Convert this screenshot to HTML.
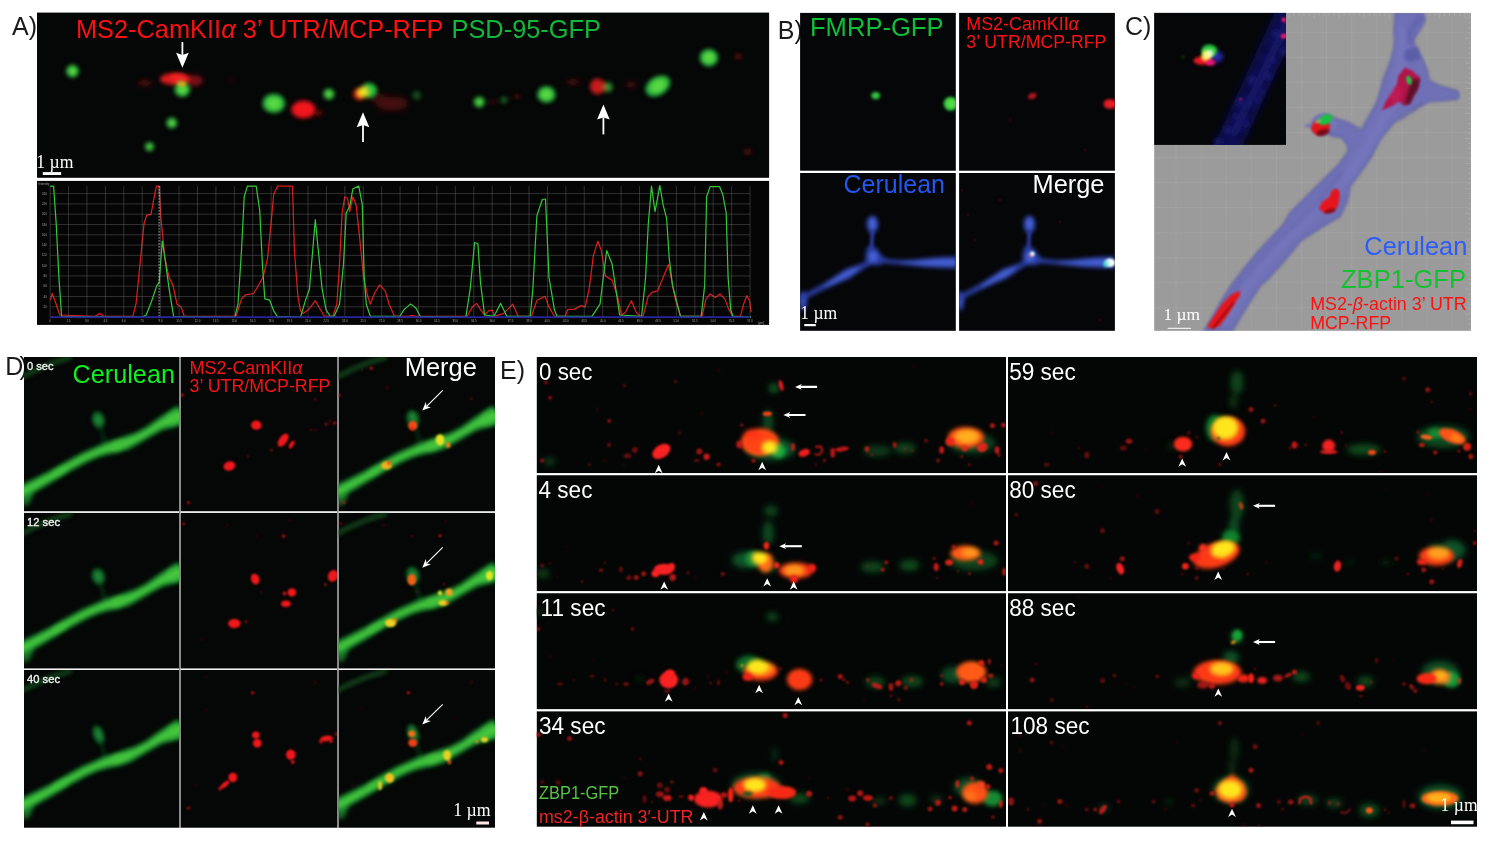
<!DOCTYPE html>
<html lang="en"><head><meta charset="utf-8"><title>Figure</title>
<style>
html,body{margin:0;padding:0;background:#fff;}
body{width:1490px;height:842px;overflow:hidden;font-family:"Liberation Sans",sans-serif;}
svg{display:block;}
</style></head><body>
<svg width="1490" height="842" viewBox="0 0 1490 842">
<rect width="1490" height="842" fill="#fff"/>
<text x="12.0" y="34.6" font-family="'Liberation Sans',sans-serif" font-size="25" fill="#1a1a1a">A)</text>
<text x="777.8" y="39.4" font-family="'Liberation Sans',sans-serif" font-size="25" fill="#1a1a1a">B)</text>
<text x="1125.0" y="35.4" font-family="'Liberation Sans',sans-serif" font-size="25" fill="#1a1a1a">C)</text>
<text x="5.2" y="374.6" font-family="'Liberation Sans',sans-serif" font-size="25" fill="#1a1a1a">D</text>
<text x="19.6" y="374.6" font-family="'Liberation Sans',sans-serif" font-size="25" fill="#1a1a1a">)</text>
<text x="500.0" y="378.9" font-family="'Liberation Sans',sans-serif" font-size="25" fill="#1a1a1a">E)</text>
<!-- gen_a -->
<clipPath id="cpA"><rect x="37" y="12.6" width="732.1" height="165.2"/></clipPath>
<rect x="37" y="12.6" width="732.1" height="165.2" fill="#050606"/>
<g clip-path="url(#cpA)">
<filter id="fA_3" filterUnits="userSpaceOnUse" x="17" y="-7.4" width="772.1" height="205.2"><feGaussianBlur stdDeviation="3"/></filter>
<g filter="url(#fA_3)"><ellipse cx="392.0" cy="103.5" rx="16.0" ry="7.0" fill="#5a1010" opacity="0.80"/><ellipse cx="378.0" cy="98.0" rx="8.0" ry="5.0" fill="#4a0c0c" opacity="0.80"/></g>
<filter id="fA_2_5" filterUnits="userSpaceOnUse" x="17" y="-7.4" width="772.1" height="205.2"><feGaussianBlur stdDeviation="2.5"/></filter>
<g filter="url(#fA_2_5)"><ellipse cx="145.0" cy="83.0" rx="8.0" ry="3.0" fill="#5a0c0e" opacity="0.80"/><ellipse cx="318.0" cy="113.0" rx="5.0" ry="3.0" fill="#7a1012" opacity="0.80"/><ellipse cx="573.0" cy="82.0" rx="8.0" ry="3.0" fill="#4a0c0c" opacity="0.80"/><ellipse cx="631.0" cy="84.6" rx="5.0" ry="3.0" fill="#5a0c0e" opacity="0.80"/><ellipse cx="230.0" cy="80.0" rx="5.0" ry="2.0" fill="#300808" opacity="0.80"/></g>
<filter id="fA_2_4" filterUnits="userSpaceOnUse" x="17" y="-7.4" width="772.1" height="205.2"><feGaussianBlur stdDeviation="2.4"/></filter>
<g filter="url(#fA_2_4)"><ellipse cx="193.0" cy="80.5" rx="10.0" ry="5.5" fill="#8a1216" opacity="0.90"/></g>
<filter id="fA_2_2" filterUnits="userSpaceOnUse" x="17" y="-7.4" width="772.1" height="205.2"><feGaussianBlur stdDeviation="2.2"/></filter>
<g filter="url(#fA_2_2)"><ellipse cx="175.0" cy="79.0" rx="15.0" ry="6.0" fill="#e81c20" opacity="0.95"/></g>
<filter id="fA_2_0" filterUnits="userSpaceOnUse" x="17" y="-7.4" width="772.1" height="205.2"><feGaussianBlur stdDeviation="2.0"/></filter>
<g filter="url(#fA_2_0)"><ellipse cx="72.5" cy="71.1" rx="6.3" ry="6.3" fill="#2ab840"/><ellipse cx="72.5" cy="71.1" rx="3.7" ry="3.7" fill="#58d840"/><ellipse cx="182.3" cy="89.6" rx="7.8" ry="7.3" fill="#2ab840"/><ellipse cx="182.3" cy="89.6" rx="4.6" ry="4.3" fill="#58d840"/><ellipse cx="171.8" cy="123.0" rx="5.4" ry="5.4" fill="#2ab840" opacity="0.95"/><ellipse cx="171.8" cy="123.0" rx="3.2" ry="3.2" fill="#58d840" opacity="0.95"/><ellipse cx="149.5" cy="146.8" rx="4.7" ry="4.7" fill="#2ab840" opacity="0.85"/><ellipse cx="149.5" cy="146.8" rx="2.8" ry="2.8" fill="#58d840" opacity="0.85"/><ellipse cx="273.8" cy="103.4" rx="11.2" ry="9.7" fill="#2ab840"/><ellipse cx="273.8" cy="103.4" rx="6.6" ry="5.7" fill="#58d840"/><ellipse cx="328.9" cy="94.0" rx="5.6" ry="5.6" fill="#2ab840" opacity="0.95"/><ellipse cx="328.9" cy="94.0" rx="3.3" ry="3.3" fill="#58d840" opacity="0.95"/><ellipse cx="479.3" cy="102.0" rx="5.6" ry="5.6" fill="#2ab840" opacity="0.90"/><ellipse cx="479.3" cy="102.0" rx="3.3" ry="3.3" fill="#58d840" opacity="0.90"/><ellipse cx="546.4" cy="94.5" rx="9.2" ry="8.2" fill="#2ab840"/><ellipse cx="546.4" cy="94.5" rx="5.4" ry="4.8" fill="#58d840"/><ellipse cx="657.9" cy="85.9" rx="13.3" ry="9.2" fill="#2ab840" transform="rotate(-32 657.9 85.9)"/><ellipse cx="657.9" cy="85.9" rx="7.8" ry="5.4" fill="#58d840" transform="rotate(-32 657.9 85.9)"/><ellipse cx="708.9" cy="57.7" rx="9.2" ry="8.7" fill="#2ab840"/><ellipse cx="708.9" cy="57.7" rx="5.4" ry="5.1" fill="#58d840"/><ellipse cx="416.8" cy="95.3" rx="4.5" ry="4.5" fill="#164a1c"/><ellipse cx="504.0" cy="99.9" rx="3.5" ry="3.5" fill="#1b5a22"/><ellipse cx="608.2" cy="87.2" rx="4.5" ry="5.0" fill="#2a8a30"/><ellipse cx="178.0" cy="77.5" rx="8.0" ry="3.2" fill="#f82828" opacity="0.90"/><ellipse cx="303.4" cy="109.5" rx="12.0" ry="9.0" fill="#f0181c"/><ellipse cx="359.5" cy="94.0" rx="6.0" ry="6.0" fill="#f03014"/><ellipse cx="369.0" cy="90.5" rx="8.0" ry="7.5" fill="#2fc23c"/><ellipse cx="363.0" cy="92.0" rx="5.0" ry="5.0" fill="#f0e020"/><ellipse cx="492.8" cy="102.0" rx="3.0" ry="2.0" fill="#5a0c0e" opacity="0.80"/><ellipse cx="517.0" cy="96.6" rx="4.0" ry="2.5" fill="#4a0c0c" opacity="0.80"/><ellipse cx="597.4" cy="86.4" rx="7.5" ry="8.0" fill="#d01a1c" opacity="0.95"/><ellipse cx="738.4" cy="56.4" rx="4.0" ry="3.0" fill="#5a0c0e" opacity="0.90"/><ellipse cx="747.8" cy="151.7" rx="4.0" ry="3.5" fill="#4a0c0c" opacity="0.90"/></g>
<filter id="fA_1_6" filterUnits="userSpaceOnUse" x="17" y="-7.4" width="772.1" height="205.2"><feGaussianBlur stdDeviation="1.6"/></filter>
<g filter="url(#fA_1_6)"><ellipse cx="181.6" cy="84.2" rx="4.5" ry="2.4" fill="#e8b020" opacity="0.90"/></g>
<path d="M182.4 42.0 L182.4 54.9" stroke="#fff" stroke-width="1.8" fill="none"/><path d="M182.4 67.8 L176.1 52.8 L182.4 54.9 L188.7 52.8Z" fill="#fff"/>
<path d="M363.0 141.9 L363.0 125.1" stroke="#fff" stroke-width="1.8" fill="none"/><path d="M363.0 112.2 L356.7 127.2 L363.0 125.1 L369.3 127.2Z" fill="#fff"/>
<path d="M603.4 134.4 L603.4 117.5" stroke="#fff" stroke-width="1.8" fill="none"/><path d="M603.4 104.6 L597.1 119.6 L603.4 117.5 L609.7 119.6Z" fill="#fff"/>
<text x="75.9" y="38.2" font-family="'Liberation Sans',sans-serif" font-size="25" fill="#fa1212" textLength="367.5" lengthAdjust="spacingAndGlyphs">MS2-CamKII<tspan font-style="italic">α</tspan> 3’ UTR/MCP-RFP</text>
<text x="451.5" y="38.2" font-family="'Liberation Sans',sans-serif" font-size="25" fill="#12b83a" textLength="149.5" lengthAdjust="spacingAndGlyphs">PSD-95-GFP</text>
<text x="36.2" y="167.9" font-family="'Liberation Serif',serif" font-size="19" fill="#fff" textLength="37.2" lengthAdjust="spacingAndGlyphs">1 µm</text>
<rect x="42.8" y="172.1" width="18.3" height="2.9" fill="#fff"/>
</g>
<clipPath id="cpP"><rect x="37" y="180.9" width="732.1" height="144.0"/></clipPath>
<rect x="37" y="180.9" width="732.1" height="144.0" fill="#050505"/>
<g clip-path="url(#cpP)">
<filter id="fP_0_4" filterUnits="userSpaceOnUse" x="17" y="160.9" width="772.1" height="184.0"><feGaussianBlur stdDeviation="0.4"/></filter>
<g filter="url(#fP_0_4)"><polyline points="50.5,300.0 52.2,293.5 56.2,304.2 59.7,315.0 95.0,316.3 99.7,313.6 104.0,316.3 132.8,316.3 136.0,304.2 139.5,269.3 144.0,223.7 146.7,215.1 151.0,214.3 154.2,196.8 156.4,186.1 159.1,186.1 160.9,218.3 165.0,258.6 169.0,277.4 173.0,285.4 177.0,304.2 181.1,306.9 184.3,316.3 236.1,316.3 241.5,298.9 245.5,294.8 253.6,293.5 257.6,286.8 263.0,277.4 267.5,258.6 271.0,223.7 273.7,194.2 277.7,186.1 292.5,186.1 294.4,250.5 297.9,296.2 300.5,310.9 303.2,313.6 308.6,309.6 315.3,300.7 322.0,312.3 324.7,316.3 332.8,316.3 336.8,304.2 339.5,264.0 342.1,213.0 344.8,196.8 347.5,198.2 349.7,211.6 352.9,196.8 356.1,204.9 359.6,237.1 363.6,277.4 367.7,296.2 370.3,304.2 374.4,293.5 379.7,284.9 385.1,290.8 389.1,304.2 394.5,316.3 408.0,316.3 412.0,315.3 416.0,316.3 467.1,316.3 472.5,306.9 476.5,303.4 480.5,309.6 484.6,315.0 488.6,310.9 492.6,310.1 494.0,316.3 503.4,313.6 507.4,309.6 512.8,304.2 518.1,316.3 531.5,316.3 536.9,300.2 545.0,296.2 549.0,306.9 554.4,316.3 565.1,316.3 567.8,309.6 574.5,309.1 581.2,305.6 585.2,306.9 589.3,288.1 593.3,255.9 597.9,241.1 601.3,250.5 605.4,276.0 612.1,280.1 617.4,296.2 621.5,315.0 625.5,312.3 631.4,300.7 636.2,312.3 640.3,316.3 643.0,316.3 648.3,296.2 652.3,292.1 657.7,290.8 663.1,277.4 668.5,264.5 671.1,277.4 675.2,298.9 680.5,316.3 702.0,316.3 706.0,298.9 710.1,294.0 715.4,297.5 720.0,294.0 724.8,298.9 728.9,309.6 732.9,316.3 740.4,316.3 743.6,304.2 746.8,295.6 749.8,301.5 751.1,312.3" fill="none" stroke="#dc1a1a" stroke-width="1.25" stroke-linejoin="round"/><polyline points="50.1,186.1 53.6,186.1 56.2,223.7 58.9,277.4 61.6,316.3 142.1,317.1 146.2,315.0 151.5,301.5 156.9,285.4 159.1,282.8 162.3,241.1 165.0,258.6 169.0,288.1 173.6,316.3 234.8,317.1 238.0,304.2 241.5,250.5 244.2,196.8 247.4,186.1 256.2,186.1 259.7,210.3 262.4,264.0 264.8,298.9 269.7,300.2 273.7,310.9 277.2,316.3 300.5,317.1 305.9,298.9 309.4,289.5 315.3,219.7 322.0,288.1 326.0,309.6 330.1,316.3 334.1,316.3 339.5,304.2 343.5,264.0 346.2,213.0 349.7,206.2 352.9,188.8 358.8,186.1 362.3,204.9 364.2,277.4 366.3,304.2 370.3,316.3 399.9,316.3 404.0,309.6 410.7,303.9 416.1,308.3 420.1,316.3 465.8,317.1 470.3,288.1 474.6,242.5 477.9,243.8 480.5,282.8 484.6,315.0 494.0,316.3 500.7,303.4 506.8,316.3 530.2,316.3 532.9,288.1 536.9,215.6 542.3,199.5 545.5,199.0 549.0,277.4 554.4,309.6 557.0,316.3 592.0,316.3 600.0,304.2 604.0,272.0 606.7,250.5 612.1,264.0 616.1,290.8 619.6,315.0 641.6,316.3 645.6,277.4 648.3,223.7 651.5,186.1 655.0,211.6 659.9,185.6 663.1,204.9 666.6,218.3 669.3,258.6 672.5,285.4 680.5,316.3 701.2,316.3 704.7,285.4 706.6,196.8 710.1,186.6 719.5,186.6 722.7,194.2 726.2,213.0 728.1,277.4 730.7,309.6 732.9,316.3 751.1,317.1" fill="none" stroke="#30cc36" stroke-width="1.2" stroke-linejoin="round"/></g>
<filter id="fP_0_35" filterUnits="userSpaceOnUse" x="17" y="160.9" width="772.1" height="184.0"><feGaussianBlur stdDeviation="0.35"/></filter>
<g filter="url(#fP_0_35)"><path d="M50.10 186.1 V317.1 M68.52 186.1 V317.1 M86.94 186.1 V317.1 M105.36 186.1 V317.1 M123.78 186.1 V317.1 M142.20 186.1 V317.1 M160.62 186.1 V317.1 M179.04 186.1 V317.1 M197.46 186.1 V317.1 M215.88 186.1 V317.1 M234.30 186.1 V317.1 M252.72 186.1 V317.1 M271.14 186.1 V317.1 M289.56 186.1 V317.1 M307.98 186.1 V317.1 M326.40 186.1 V317.1 M344.82 186.1 V317.1 M363.24 186.1 V317.1 M381.66 186.1 V317.1 M400.08 186.1 V317.1 M418.50 186.1 V317.1 M436.92 186.1 V317.1 M455.34 186.1 V317.1 M473.76 186.1 V317.1 M492.18 186.1 V317.1 M510.60 186.1 V317.1 M529.02 186.1 V317.1 M547.44 186.1 V317.1 M565.86 186.1 V317.1 M584.28 186.1 V317.1 M602.70 186.1 V317.1 M621.12 186.1 V317.1 M639.54 186.1 V317.1 M657.96 186.1 V317.1 M676.38 186.1 V317.1 M694.80 186.1 V317.1 M713.22 186.1 V317.1 M731.64 186.1 V317.1 M750.06 186.1 V317.1 M50.1 306.81 H750.06 M50.1 296.52 H750.06 M50.1 286.23 H750.06 M50.1 275.94 H750.06 M50.1 265.65 H750.06 M50.1 255.36 H750.06 M50.1 245.07 H750.06 M50.1 234.78 H750.06 M50.1 224.49 H750.06 M50.1 214.20 H750.06 M50.1 203.91 H750.06 M50.1 193.62 H750.06" stroke="#8a8a8a" stroke-width="0.9" fill="none" opacity="0.36"/><path d="M159.1 186.1 V317.1" stroke="#ddd" stroke-width="1" stroke-dasharray="1.5 1.5" fill="none" opacity=".8"/><path d="M50.1 317.1 H750.1" stroke="#28289c" stroke-width="1.6" fill="none"/></g>
<filter id="fP_0_3" filterUnits="userSpaceOnUse" x="17" y="160.9" width="772.1" height="184.0"><feGaussianBlur stdDeviation="0.3"/></filter>
<g filter="url(#fP_0_3)"><g font-family="'Liberation Sans',sans-serif" font-size="2.9" fill="#ddd" opacity=".7"><text x="50.1" y="321.6" text-anchor="middle">0</text><text x="68.5" y="321.6" text-anchor="middle">1.5</text><text x="86.9" y="321.6" text-anchor="middle">3.0</text><text x="105.4" y="321.6" text-anchor="middle">4.5</text><text x="123.8" y="321.6" text-anchor="middle">6.0</text><text x="142.2" y="321.6" text-anchor="middle">7.5</text><text x="160.6" y="321.6" text-anchor="middle">9.0</text><text x="179.0" y="321.6" text-anchor="middle">10.5</text><text x="197.5" y="321.6" text-anchor="middle">12.0</text><text x="215.9" y="321.6" text-anchor="middle">13.5</text><text x="234.3" y="321.6" text-anchor="middle">15.0</text><text x="252.7" y="321.6" text-anchor="middle">16.5</text><text x="271.1" y="321.6" text-anchor="middle">18.0</text><text x="289.6" y="321.6" text-anchor="middle">19.5</text><text x="308.0" y="321.6" text-anchor="middle">21.0</text><text x="326.4" y="321.6" text-anchor="middle">22.5</text><text x="344.8" y="321.6" text-anchor="middle">24.0</text><text x="363.2" y="321.6" text-anchor="middle">25.5</text><text x="381.7" y="321.6" text-anchor="middle">27.0</text><text x="400.1" y="321.6" text-anchor="middle">28.5</text><text x="418.5" y="321.6" text-anchor="middle">30.0</text><text x="436.9" y="321.6" text-anchor="middle">31.5</text><text x="455.3" y="321.6" text-anchor="middle">33.0</text><text x="473.8" y="321.6" text-anchor="middle">34.5</text><text x="492.2" y="321.6" text-anchor="middle">36.0</text><text x="510.6" y="321.6" text-anchor="middle">37.5</text><text x="529.0" y="321.6" text-anchor="middle">39.0</text><text x="547.4" y="321.6" text-anchor="middle">40.5</text><text x="565.9" y="321.6" text-anchor="middle">42.0</text><text x="584.3" y="321.6" text-anchor="middle">43.5</text><text x="602.7" y="321.6" text-anchor="middle">45.0</text><text x="621.1" y="321.6" text-anchor="middle">46.5</text><text x="639.5" y="321.6" text-anchor="middle">48.0</text><text x="658.0" y="321.6" text-anchor="middle">49.5</text><text x="676.4" y="321.6" text-anchor="middle">51.0</text><text x="694.8" y="321.6" text-anchor="middle">52.5</text><text x="713.2" y="321.6" text-anchor="middle">54.0</text><text x="731.6" y="321.6" text-anchor="middle">55.5</text><text x="750.1" y="321.6" text-anchor="middle">57.0</text><text x="46.8" y="307.8" text-anchor="end">20</text><text x="46.8" y="297.5" text-anchor="end">40</text><text x="46.8" y="287.2" text-anchor="end">60</text><text x="46.8" y="276.9" text-anchor="end">80</text><text x="46.8" y="266.7" text-anchor="end">100</text><text x="46.8" y="256.4" text-anchor="end">120</text><text x="46.8" y="246.1" text-anchor="end">140</text><text x="46.8" y="235.8" text-anchor="end">160</text><text x="46.8" y="225.5" text-anchor="end">180</text><text x="46.8" y="215.2" text-anchor="end">200</text><text x="46.8" y="204.9" text-anchor="end">220</text><text x="46.8" y="194.6" text-anchor="end">240</text><text x="38.5" y="184.6">Intensity</text><text x="758" y="324">[µm]</text></g></g>
</g>
<!-- gen_b -->
<clipPath id="cpB1"><rect x="800.1" y="12.9" width="155.7" height="157.8"/></clipPath>
<rect x="800.1" y="12.9" width="155.7" height="157.8" fill="#050608"/>
<g clip-path="url(#cpB1)">
<filter id="fB1_1_8" filterUnits="userSpaceOnUse" x="780.1" y="-7.1" width="195.7" height="197.8"><feGaussianBlur stdDeviation="1.8"/></filter>
<g filter="url(#fB1_1_8)"><ellipse cx="950.6" cy="103.7" rx="7.0" ry="7.0" fill="#2fc23c"/></g>
<filter id="fB1_1_6" filterUnits="userSpaceOnUse" x="780.1" y="-7.1" width="195.7" height="197.8"><feGaussianBlur stdDeviation="1.6"/></filter>
<g filter="url(#fB1_1_6)"><ellipse cx="951.0" cy="103.7" rx="4.5" ry="4.5" fill="#58dc44"/></g>
<filter id="fB1_1_5" filterUnits="userSpaceOnUse" x="780.1" y="-7.1" width="195.7" height="197.8"><feGaussianBlur stdDeviation="1.5"/></filter>
<g filter="url(#fB1_1_5)"><ellipse cx="875.7" cy="95.6" rx="4.4" ry="3.6" fill="#2fc23c"/></g>
<text x="810.0" y="36.2" font-family="'Liberation Sans',sans-serif" font-size="25" fill="#0cc03a" textLength="133.5" lengthAdjust="spacingAndGlyphs">FMRP-GFP</text>
</g>
<clipPath id="cpB2"><rect x="959.1" y="12.9" width="155.8" height="157.8"/></clipPath>
<rect x="959.1" y="12.9" width="155.8" height="157.8" fill="#050608"/>
<g clip-path="url(#cpB2)">
<filter id="fB2_1_6" filterUnits="userSpaceOnUse" x="939.1" y="-7.1" width="195.8" height="197.8"><feGaussianBlur stdDeviation="1.6"/></filter>
<g filter="url(#fB2_1_6)"><ellipse cx="1110.0" cy="104.0" rx="6.5" ry="4.8" fill="#e81c20"/></g>
<filter id="fB2_1_5" filterUnits="userSpaceOnUse" x="939.1" y="-7.1" width="195.8" height="197.8"><feGaussianBlur stdDeviation="1.5"/></filter>
<g filter="url(#fB2_1_5)"><ellipse cx="1032.3" cy="96.0" rx="4.4" ry="2.7" fill="#c8181c" opacity="0.95" transform="rotate(-20 1032.3 96.0)"/></g>
<filter id="fB2_0_8" filterUnits="userSpaceOnUse" x="939.1" y="-7.1" width="195.8" height="197.8"><feGaussianBlur stdDeviation="0.8"/></filter>
<g filter="url(#fB2_0_8)"><ellipse cx="970.0" cy="20.0" rx="1.2" ry="1.2" fill="#401014" opacity="0.90"/><ellipse cx="1005.0" cy="40.0" rx="1.2" ry="1.2" fill="#401014" opacity="0.90"/><ellipse cx="1085.0" cy="150.0" rx="1.2" ry="1.2" fill="#401014" opacity="0.90"/><ellipse cx="1010.0" cy="120.0" rx="1.2" ry="1.2" fill="#401014" opacity="0.90"/></g>
<text x="966.3" y="30.3" font-family="'Liberation Sans',sans-serif" font-size="17.5" fill="#fa1414" textLength="112.5" lengthAdjust="spacingAndGlyphs">MS2-CamKII<tspan font-style="italic">α</tspan></text>
<text x="966.3" y="47.6" font-family="'Liberation Sans',sans-serif" font-size="17.5" fill="#fa1414" textLength="140.0" lengthAdjust="spacingAndGlyphs">3’ UTR/MCP-RFP</text>
</g>
<clipPath id="cpB3"><rect x="800.1" y="173.0" width="155.7" height="157.8"/></clipPath>
<rect x="800.1" y="173.0" width="155.7" height="157.8" fill="#050608"/>
<g clip-path="url(#cpB3)">
<filter id="fB3_2_2" filterUnits="userSpaceOnUse" x="780.1" y="153.0" width="195.7" height="197.8"><feGaussianBlur stdDeviation="2.2"/></filter>
<g filter="url(#fB3_2_2)"><ellipse cx="803.2" cy="301.0" rx="4.0" ry="10.0" fill="#2a3ca4"/><ellipse cx="803.2" cy="300.0" rx="2.0" ry="6.0" fill="#4560d4" opacity="0.80"/></g>
<filter id="fB3_2_0" filterUnits="userSpaceOnUse" x="780.1" y="153.0" width="195.7" height="197.8"><feGaussianBlur stdDeviation="2.0"/></filter>
<g filter="url(#fB3_2_0)"><path d="M800.2 301.8 L813.2 295.0 L826.3 288.4 L839.9 282.5 L850.4 277.9 L859.6 271.4 L869.0 265.6 L867.0 261.6 L856.4 265.2 L845.6 269.1 L836.1 275.5 L823.7 283.6 L810.8 290.6 L797.8 297.4Z" fill="#2a3ca4"/><path d="M825.5 286.9 L839.1 281.0 L849.4 276.1 L858.7 269.6 L857.3 267.0 L846.6 270.9 L836.9 277.0 L824.5 285.1Z" fill="#4560d4"/><path d="M875.4 262.4 L887.7 263.4 L899.9 264.4 L912.9 265.8 L926.0 267.3 L940.1 268.1 L957.0 268.5 L957.0 256.5 L939.9 257.1 L926.0 258.3 L913.1 259.8 L900.1 260.2 L888.3 259.0 L876.6 255.6Z" fill="#2a3ca4"/><path d="M900.0 262.8 L913.0 264.0 L926.0 265.0 L940.0 265.6 L957.0 266.0 L957.0 259.0 L940.0 259.6 L926.0 260.6 L913.0 261.6 L900.0 261.8Z" fill="#4560d4"/><path d="M867.5 246.0 L876.0 247.5 L885.0 259.5 L881.0 265.0 L865.5 265.5 L865.5 255.0Z" fill="#2a3ca4"/><ellipse cx="873.0" cy="256.5" rx="4.2" ry="5.5" fill="#4560d4"/><ellipse cx="872.4" cy="224.4" rx="6.0" ry="9.0" fill="#2a3ca4"/><ellipse cx="872.4" cy="223.6" rx="3.8" ry="6.4" fill="#4560d4"/></g>
<filter id="fB3_1_7" filterUnits="userSpaceOnUse" x="780.1" y="153.0" width="195.7" height="197.8"><feGaussianBlur stdDeviation="1.7"/></filter>
<g filter="url(#fB3_1_7)"><path d="M872.4 232.0 L871.5 249.0" fill="none" stroke="#2a3ca4" stroke-width="3.6" stroke-linecap="round" stroke-linejoin="round"/></g>
<text x="843.5" y="192.9" font-family="'Liberation Sans',sans-serif" font-size="25" fill="#2456f0" textLength="101.5" lengthAdjust="spacingAndGlyphs">Cerulean</text>
<text x="800.3" y="318.8" font-family="'Liberation Serif',serif" font-size="18.5" fill="#fff" textLength="37.0" lengthAdjust="spacingAndGlyphs">1 µm</text>
<rect x="804.3" y="324" width="11.5" height="2.2" fill="#fff"/>
</g>
<clipPath id="cpB4"><rect x="959.1" y="173.0" width="155.8" height="157.8"/></clipPath>
<rect x="959.1" y="173.0" width="155.8" height="157.8" fill="#050608"/>
<g clip-path="url(#cpB4)">
<filter id="fB4_2_2" filterUnits="userSpaceOnUse" x="939.1" y="153.0" width="195.8" height="197.8"><feGaussianBlur stdDeviation="2.2"/></filter>
<g filter="url(#fB4_2_2)"><ellipse cx="960.2" cy="301.0" rx="4.0" ry="10.0" fill="#2a3ca4"/><ellipse cx="960.2" cy="300.0" rx="2.0" ry="6.0" fill="#4560d4" opacity="0.80"/></g>
<filter id="fB4_2_0" filterUnits="userSpaceOnUse" x="939.1" y="153.0" width="195.8" height="197.8"><feGaussianBlur stdDeviation="2.0"/></filter>
<g filter="url(#fB4_2_0)"><path d="M957.2 301.8 L970.2 295.0 L983.3 288.4 L996.9 282.5 L1007.4 277.9 L1016.6 271.4 L1026.0 265.6 L1024.0 261.6 L1013.4 265.2 L1002.6 269.1 L993.1 275.5 L980.7 283.6 L967.8 290.6 L954.8 297.4Z" fill="#2a3ca4"/><path d="M982.5 286.9 L996.1 281.0 L1006.4 276.1 L1015.7 269.6 L1014.3 267.0 L1003.6 270.9 L993.9 277.0 L981.5 285.1Z" fill="#4560d4"/><path d="M1032.4 262.4 L1044.7 263.4 L1056.9 264.4 L1069.9 265.8 L1083.0 267.3 L1097.1 268.1 L1114.0 268.5 L1114.0 256.5 L1096.9 257.1 L1083.0 258.3 L1070.1 259.8 L1057.1 260.2 L1045.3 259.0 L1033.6 255.6Z" fill="#2a3ca4"/><path d="M1057.0 262.8 L1070.0 264.0 L1083.0 265.0 L1097.0 265.6 L1114.0 266.0 L1114.0 259.0 L1097.0 259.6 L1083.0 260.6 L1070.0 261.6 L1057.0 261.8Z" fill="#4560d4"/><path d="M1024.5 246.0 L1033.0 247.5 L1042.0 259.5 L1038.0 265.0 L1022.5 265.5 L1022.5 255.0Z" fill="#2a3ca4"/><ellipse cx="1030.0" cy="256.5" rx="4.2" ry="5.5" fill="#4560d4"/><ellipse cx="1029.4" cy="224.4" rx="6.0" ry="9.0" fill="#2a3ca4"/><ellipse cx="1029.4" cy="223.6" rx="3.8" ry="6.4" fill="#4560d4"/></g>
<filter id="fB4_1_7" filterUnits="userSpaceOnUse" x="939.1" y="153.0" width="195.8" height="197.8"><feGaussianBlur stdDeviation="1.7"/></filter>
<g filter="url(#fB4_1_7)"><path d="M1029.4 232.0 L1028.5 249.0" fill="none" stroke="#2a3ca4" stroke-width="3.6" stroke-linecap="round" stroke-linejoin="round"/></g>
<filter id="fB4_1_3" filterUnits="userSpaceOnUse" x="939.1" y="153.0" width="195.8" height="197.8"><feGaussianBlur stdDeviation="1.3"/></filter>
<g filter="url(#fB4_1_3)"><ellipse cx="1110.0" cy="262.7" rx="5.4" ry="4.2" fill="#f4fffa"/><ellipse cx="1106.0" cy="263.8" rx="3.0" ry="3.6" fill="#40e0d0" opacity="0.70"/></g>
<filter id="fB4_1_0" filterUnits="userSpaceOnUse" x="939.1" y="153.0" width="195.8" height="197.8"><feGaussianBlur stdDeviation="1.0"/></filter>
<g filter="url(#fB4_1_0)"><ellipse cx="1032.3" cy="254.0" rx="2.4" ry="2.4" fill="#e8fff0"/><ellipse cx="1030.3" cy="255.6" rx="1.6" ry="1.6" fill="#ff5060" opacity="0.80"/></g>
<filter id="fB4_0_8" filterUnits="userSpaceOnUse" x="939.1" y="153.0" width="195.8" height="197.8"><feGaussianBlur stdDeviation="0.8"/></filter>
<g filter="url(#fB4_0_8)"><ellipse cx="968.0" cy="215.0" rx="1.2" ry="1.2" fill="#401014" opacity="0.90"/><ellipse cx="962.0" cy="190.0" rx="1.2" ry="1.2" fill="#401014" opacity="0.90"/><ellipse cx="1060.0" cy="222.0" rx="1.2" ry="1.2" fill="#401014" opacity="0.90"/><ellipse cx="1100.0" cy="320.0" rx="1.2" ry="1.2" fill="#401014" opacity="0.90"/><ellipse cx="1085.0" cy="190.0" rx="1.2" ry="1.2" fill="#401014" opacity="0.90"/><ellipse cx="1000.0" cy="200.0" rx="1.2" ry="1.2" fill="#401014" opacity="0.90"/><ellipse cx="975.0" cy="240.0" rx="1.2" ry="1.2" fill="#401014" opacity="0.90"/></g>
<text x="1032.5" y="192.9" font-family="'Liberation Sans',sans-serif" font-size="25" fill="#ffffff" textLength="72.0" lengthAdjust="spacingAndGlyphs">Merge</text>
</g>
<!-- gen_c -->
<clipPath id="cpC"><rect x="1154.2" y="12.9" width="316.8" height="317.9"/></clipPath>
<rect x="1154.2" y="12.9" width="316.8" height="317.9" fill="#9b9b9b"/>
<g clip-path="url(#cpC)">
<filter id="fC_0_4" filterUnits="userSpaceOnUse" x="1134.2" y="-7.1" width="356.8" height="357.9"><feGaussianBlur stdDeviation="0.4"/></filter>
<g filter="url(#fC_0_4)"><path d="M1176.0 13 V331 M1201.1 13 V331 M1226.2 13 V331 M1251.3 13 V331 M1276.4 13 V331 M1301.5 13 V331 M1326.6 13 V331 M1351.7 13 V331 M1376.8 13 V331 M1401.9 13 V331 M1427.0 13 V331 M1452.1 13 V331 M1477.2 13 V331 M1154 32.3 H1471 M1154 57.3 H1471 M1154 82.4 H1471 M1154 107.5 H1471 M1154 132.5 H1471 M1154 157.6 H1471 M1154 182.6 H1471 M1154 207.6 H1471 M1154 232.7 H1471 M1154 257.8 H1471 M1154 282.8 H1471 M1154 307.9 H1471" stroke="#b0b0b0" stroke-width="0.8" fill="none" opacity=".38"/><path d="M1289.0 13 v5 M1294.0 13 v3 M1299.0 13 v3 M1304.1 13 v3 M1309.1 13 v3 M1314.1 13 v5 M1319.1 13 v3 M1324.1 13 v3 M1329.2 13 v3 M1334.2 13 v3 M1339.2 13 v5 M1344.2 13 v3 M1349.2 13 v3 M1354.3 13 v3 M1359.3 13 v3 M1364.3 13 v5 M1369.3 13 v3 M1374.3 13 v3 M1379.4 13 v3 M1384.4 13 v3 M1389.4 13 v5 M1394.4 13 v3 M1399.4 13 v3 M1404.5 13 v3 M1409.5 13 v3 M1414.5 13 v5 M1419.5 13 v3 M1424.5 13 v3 M1429.6 13 v3 M1434.6 13 v3 M1439.6 13 v5 M1444.6 13 v3 M1449.6 13 v3 M1454.7 13 v3 M1459.7 13 v3 M1464.7 13 v5 M1469.7 13 v3 M1474.7 13 v3 M1479.8 13 v3 M1484.8 13 v3 M1489.8 13 v5 M1494.8 13 v3 M1499.8 13 v3 M1504.9 13 v3 M1509.9 13 v3 M1514.9 13 v5 M1519.9 13 v3 M1524.9 13 v3 M1530.0 13 v3 M1535.0 13 v3 M1540.0 13 v5 M1545.0 13 v3 M1550.0 13 v3 M1555.1 13 v3 M1560.1 13 v3 M1565.1 13 v5 M1570.1 13 v3 M1575.1 13 v3 M1580.2 13 v3 M1585.2 13 v3 M1590.2 13 v5 M1595.2 13 v3 M1600.2 13 v3 M1605.3 13 v3 M1471 13.0 h-6 M1471 18.0 h-3 M1471 23.0 h-3 M1471 28.1 h-3 M1471 33.1 h-3 M1471 38.1 h-6 M1471 43.1 h-3 M1471 48.1 h-3 M1471 53.2 h-3 M1471 58.2 h-3 M1471 63.2 h-6 M1471 68.2 h-3 M1471 73.2 h-3 M1471 78.3 h-3 M1471 83.3 h-3 M1471 88.3 h-6 M1471 93.3 h-3 M1471 98.3 h-3 M1471 103.4 h-3 M1471 108.4 h-3 M1471 113.4 h-6 M1471 118.4 h-3 M1471 123.4 h-3 M1471 128.5 h-3 M1471 133.5 h-3 M1471 138.5 h-6 M1471 143.5 h-3 M1471 148.5 h-3 M1471 153.6 h-3 M1471 158.6 h-3 M1471 163.6 h-6 M1471 168.6 h-3 M1471 173.6 h-3 M1471 178.7 h-3 M1471 183.7 h-3 M1471 188.7 h-6 M1471 193.7 h-3 M1471 198.7 h-3 M1471 203.8 h-3 M1471 208.8 h-3 M1471 213.8 h-6 M1471 218.8 h-3 M1471 223.8 h-3 M1471 228.9 h-3 M1471 233.9 h-3 M1471 238.9 h-6 M1471 243.9 h-3 M1471 248.9 h-3 M1471 254.0 h-3 M1471 259.0 h-3 M1471 264.0 h-6 M1471 269.0 h-3 M1471 274.0 h-3 M1471 279.1 h-3 M1471 284.1 h-3 M1471 289.1 h-6 M1471 294.1 h-3 M1471 299.1 h-3 M1471 304.2 h-3 M1471 309.2 h-3 M1471 314.2 h-6 M1471 319.2 h-3 M1471 324.2 h-3 M1471 329.3 h-3" stroke="#c0c0c0" stroke-width="0.7" fill="none" opacity=".5"/></g>
<filter id="fC_1_0" filterUnits="userSpaceOnUse" x="1134.2" y="-7.1" width="356.8" height="357.9"><feGaussianBlur stdDeviation="1.0"/></filter>
<g filter="url(#fC_1_0)"><path d="M1204.2 331.0 L1212.0 318.0 L1222.0 300.0 L1231.3 285.4 L1243.0 270.0 L1256.0 254.0 L1268.5 240.3 L1283.0 225.0 L1290.0 213.0 L1306.6 196.4 L1323.3 179.8 L1339.9 163.2 L1348.2 151.5 L1347.4 144.9 L1341.5 137.4 L1331.6 135.7 L1325.0 130.0 L1330.0 122.0 L1334.9 118.3 L1348.2 122.4 L1361.5 129.9 L1368.0 118.0 L1376.5 103.3 L1380.0 92.0 L1382.8 80.8 L1388.0 68.0 L1390.9 60.6 L1394.0 48.0 L1394.9 40.4 L1394.0 30.0 L1394.9 20.2 L1394.9 13.0 L1423.2 13.0 L1425.2 20.2 L1421.0 28.0 L1413.0 40.4 L1417.0 50.0 L1423.2 60.6 L1427.0 70.0 L1429.2 80.8 L1440.0 86.0 L1457.5 90.9 L1459.0 95.0 L1457.5 98.9 L1440.0 101.0 L1429.7 101.6 L1418.0 107.0 L1406.4 113.3 L1393.1 123.3 L1379.8 139.9 L1371.5 156.5 L1359.8 173.1 L1349.9 186.4 L1348.5 195.0 L1346.5 203.1 L1339.9 216.4 L1323.3 226.3 L1301.2 240.3 L1290.0 254.0 L1278.0 268.0 L1268.0 279.0 L1260.6 285.4 L1251.0 300.0 L1241.0 316.0 L1232.4 331.0Z" fill="#6f70b6"/></g>
<filter id="fC_1_5" filterUnits="userSpaceOnUse" x="1134.2" y="-7.1" width="356.8" height="357.9"><feGaussianBlur stdDeviation="1.5"/></filter>
<g filter="url(#fC_1_5)"><path d="M1204.2 331.0 L1212.0 318.0 L1222.0 300.0 L1231.3 285.4 L1243.0 270.0 L1256.0 254.0 L1268.5 240.3 L1283.0 225.0 L1290.0 213.0 L1306.6 196.4 L1323.3 179.8 L1339.9 163.2 L1348.2 151.5 L1347.4 144.9 L1341.5 137.4 L1331.6 135.7 L1325.0 130.0 L1330.0 122.0 L1334.9 118.3 L1348.2 122.4 L1361.5 129.9 L1368.0 118.0 L1376.5 103.3 L1380.0 92.0 L1382.8 80.8 L1388.0 68.0 L1390.9 60.6 L1394.0 48.0 L1394.9 40.4 L1394.0 30.0 L1394.9 20.2 L1394.9 13.0 L1423.2 13.0 L1425.2 20.2 L1421.0 28.0 L1413.0 40.4 L1417.0 50.0 L1423.2 60.6 L1427.0 70.0 L1429.2 80.8 L1440.0 86.0 L1457.5 90.9 L1459.0 95.0 L1457.5 98.9 L1440.0 101.0 L1429.7 101.6 L1418.0 107.0 L1406.4 113.3 L1393.1 123.3 L1379.8 139.9 L1371.5 156.5 L1359.8 173.1 L1349.9 186.4 L1348.5 195.0 L1346.5 203.1 L1339.9 216.4 L1323.3 226.3 L1301.2 240.3 L1290.0 254.0 L1278.0 268.0 L1268.0 279.0 L1260.6 285.4 L1251.0 300.0 L1241.0 316.0 L1232.4 331.0Z" fill="none" stroke="#6062a6" stroke-width="2.2" opacity=".7"/></g>
<g filter="url(#fC_1_0)"><ellipse cx="1323.3" cy="124.3" rx="12.8" ry="11.2" fill="#7676b6" transform="rotate(-15 1323.3 124.3)"/></g>
<filter id="fC_0_8" filterUnits="userSpaceOnUse" x="1134.2" y="-7.1" width="356.8" height="357.9"><feGaussianBlur stdDeviation="0.8"/></filter>
<g filter="url(#fC_0_8)"><ellipse cx="1308.5" cy="125.7" rx="3.5" ry="1.6" fill="#6f70b6"/></g>
<filter id="fC_3_5" filterUnits="userSpaceOnUse" x="1134.2" y="-7.1" width="356.8" height="357.9"><feGaussianBlur stdDeviation="3.5"/></filter>
<g filter="url(#fC_3_5)"><path d="M1225.0 320.0 L1250.0 280.0 L1285.0 240.0 L1330.0 198.0 L1355.0 165.0 L1375.0 135.0 L1392.0 100.0 L1402.0 60.0 L1404.0 30.0" fill="none" stroke="#7c7ec2" stroke-width="7" stroke-linecap="round" stroke-linejoin="round" opacity="0.55"/></g>
<filter id="fC_2_5" filterUnits="userSpaceOnUse" x="1134.2" y="-7.1" width="356.8" height="357.9"><feGaussianBlur stdDeviation="2.5"/></filter>
<g filter="url(#fC_2_5)"><path d="M1212.0 328.0 L1238.0 285.0 L1272.0 246.0 L1318.0 203.0 L1342.0 172.0" fill="none" stroke="#5a5ca4" stroke-width="3" stroke-linecap="round" stroke-linejoin="round" opacity="0.50"/></g>
<filter id="fC_2" filterUnits="userSpaceOnUse" x="1134.2" y="-7.1" width="356.8" height="357.9"><feGaussianBlur stdDeviation="2"/></filter>
<g filter="url(#fC_2)"><path d="M1420.0 18.0 L1410.0 30.0 L1410.0 42.0" fill="none" stroke="#5c5eaa" stroke-width="6" stroke-linecap="round" stroke-linejoin="round" opacity="0.70"/></g>
<g filter="url(#fC_1_5)"><path d="M1405.0 50.0 L1418.0 47.0 L1421.0 58.0 L1412.0 62.0 L1404.0 60.0Z" fill="#5658a6" opacity="0.80"/><path d="M1400.0 120.0 L1412.0 112.0 L1422.0 104.0" fill="none" stroke="#55579c" stroke-width="2" stroke-linecap="round" stroke-linejoin="round" opacity="0.60"/></g>
<g filter="url(#fC_1_0)"><path d="M1405.0 67.6 L1412.0 70.5 L1420.1 77.7 L1418.0 88.0 L1413.0 97.0 L1410.0 103.5 L1403.5 105.5 L1399.0 101.0 L1392.0 106.0 L1381.8 110.5 L1386.0 101.0 L1392.5 93.0 L1396.9 84.0 L1398.2 76.0Z" fill="#b0184a"/></g>
<g filter="url(#fC_1_5)"><path d="M1412.0 80.0 L1420.0 78.5 L1418.0 88.0 L1413.0 97.0 L1410.0 103.5 L1404.5 105.0 L1407.0 95.0Z" fill="#4a0a1c" opacity="0.85"/></g>
<g filter="url(#fC_2)"><ellipse cx="1396.0" cy="95.0" rx="5.0" ry="9.0" fill="#c81c58" opacity="0.70" transform="rotate(30 1396.0 95.0)"/></g>
<g filter="url(#fC_0_8)"><ellipse cx="1409.0" cy="80.2" rx="2.5" ry="4.6" fill="#20c040" transform="rotate(-15 1409.0 80.2)"/></g>
<filter id="fC_0_9" filterUnits="userSpaceOnUse" x="1134.2" y="-7.1" width="356.8" height="357.9"><feGaussianBlur stdDeviation="0.9"/></filter>
<g filter="url(#fC_0_9)"><ellipse cx="1320.6" cy="127.4" rx="9.5" ry="7.6" fill="#e4141c" transform="rotate(-15 1320.6 127.4)"/></g>
<g filter="url(#fC_1_5)"><ellipse cx="1323.0" cy="132.5" rx="7.0" ry="3.0" fill="#5a060a" opacity="0.80" transform="rotate(-15 1323.0 132.5)"/></g>
<g filter="url(#fC_0_9)"><ellipse cx="1325.5" cy="119.6" rx="7.6" ry="4.8" fill="#1fc040" transform="rotate(-25 1325.5 119.6)"/></g>
<filter id="fC_1" filterUnits="userSpaceOnUse" x="1134.2" y="-7.1" width="356.8" height="357.9"><feGaussianBlur stdDeviation="1"/></filter>
<g filter="url(#fC_1)"><ellipse cx="1318.0" cy="121.5" rx="3.0" ry="1.5" fill="#90e090" opacity="0.70" transform="rotate(-25 1318.0 121.5)"/></g>
<g filter="url(#fC_0_8)"><ellipse cx="1335.2" cy="193.5" rx="3.4" ry="4.6" fill="#e4141c" transform="rotate(15 1335.2 193.5)"/></g>
<g filter="url(#fC_0_9)"><path d="M1338.0 190.0 L1339.5 197.0 L1338.0 206.0 L1333.0 212.0 L1324.0 213.0 L1319.0 208.5 L1322.0 202.0 L1329.0 197.5 L1332.0 191.0Z" fill="#e4141c"/></g>
<filter id="fC_1_2" filterUnits="userSpaceOnUse" x="1134.2" y="-7.1" width="356.8" height="357.9"><feGaussianBlur stdDeviation="1.2"/></filter>
<g filter="url(#fC_1_2)"><ellipse cx="1330.0" cy="211.0" rx="6.0" ry="2.0" fill="#6a060a" opacity="0.70" transform="rotate(-15 1330.0 211.0)"/></g>
<g filter="url(#fC_0_9)"><path d="M1239.5 290.5 L1240.0 295.0 L1234.0 305.0 L1227.0 316.0 L1219.0 326.5 L1210.0 329.0 L1207.5 326.0 L1214.0 316.0 L1222.0 304.0 L1231.0 295.0Z" fill="#e4141c"/></g>
<g filter="url(#fC_1_2)"><path d="M1213.0 328.0 L1222.0 317.0 L1233.0 303.0" fill="none" stroke="#6a060a" stroke-width="2" stroke-linecap="round" stroke-linejoin="round" opacity="0.60"/></g>
</g>
<clipPath id="cpI"><rect x="1154.2" y="12.9" width="131.8" height="132.0"/></clipPath>
<rect x="1154.2" y="12.9" width="131.8" height="132.0" fill="#050608"/>
<g clip-path="url(#cpI)">
<filter id="fI_3_5" filterUnits="userSpaceOnUse" x="1134.2" y="-7.1" width="171.8" height="172.0"><feGaussianBlur stdDeviation="3.5"/></filter>
<g filter="url(#fI_3_5)"><path d="M1290.0 10.0 L1281.0 30.0 L1271.0 52.0 L1260.0 76.0 L1249.0 100.0 L1238.0 124.0 L1227.0 148.0" fill="none" stroke="#121256" stroke-width="26" stroke-linecap="round" stroke-linejoin="round" opacity="0.90"/><path d="M1286.0 25.0 L1273.0 52.0 L1261.0 78.0 L1248.0 104.0 L1234.0 134.0" fill="none" stroke="#1c1c7a" stroke-width="7" stroke-linecap="round" stroke-linejoin="round" opacity="0.60"/></g>
<filter id="fI_2_5" filterUnits="userSpaceOnUse" x="1134.2" y="-7.1" width="171.8" height="172.0"><feGaussianBlur stdDeviation="2.5"/></filter>
<g filter="url(#fI_2_5)"><ellipse cx="1276.0" cy="34.0" rx="4.0" ry="4.0" fill="#1c1c7c" opacity="0.70"/><ellipse cx="1284.0" cy="52.0" rx="4.0" ry="4.0" fill="#1c1c7c" opacity="0.70"/><ellipse cx="1252.0" cy="80.0" rx="4.0" ry="4.0" fill="#1c1c7c" opacity="0.70"/><ellipse cx="1268.0" cy="76.0" rx="4.0" ry="4.0" fill="#1c1c7c" opacity="0.70"/><ellipse cx="1240.0" cy="102.0" rx="4.0" ry="4.0" fill="#1c1c7c" opacity="0.70"/><ellipse cx="1258.0" cy="100.0" rx="3.0" ry="3.0" fill="#1c1c7c" opacity="0.70"/><ellipse cx="1228.0" cy="130.0" rx="4.0" ry="4.0" fill="#1c1c7c" opacity="0.70"/><ellipse cx="1246.0" cy="124.0" rx="3.0" ry="3.0" fill="#1c1c7c" opacity="0.70"/><ellipse cx="1218.0" cy="142.0" rx="4.0" ry="4.0" fill="#1c1c7c" opacity="0.70"/><ellipse cx="1273.0" cy="60.0" rx="3.0" ry="3.0" fill="#1c1c7c" opacity="0.70"/><ellipse cx="1262.0" cy="92.0" rx="3.0" ry="3.0" fill="#1c1c7c" opacity="0.70"/><ellipse cx="1236.0" cy="116.0" rx="3.0" ry="3.0" fill="#1c1c7c" opacity="0.70"/><ellipse cx="1265.0" cy="50.0" rx="3.0" ry="3.0" fill="#08082c" opacity="0.60"/><ellipse cx="1256.0" cy="66.0" rx="3.0" ry="3.0" fill="#08082c" opacity="0.60"/><ellipse cx="1246.0" cy="90.0" rx="3.0" ry="3.0" fill="#08082c" opacity="0.60"/><ellipse cx="1232.0" cy="112.0" rx="3.0" ry="3.0" fill="#08082c" opacity="0.60"/><ellipse cx="1250.0" cy="112.0" rx="3.0" ry="3.0" fill="#08082c" opacity="0.60"/><ellipse cx="1240.0" cy="136.0" rx="3.0" ry="3.0" fill="#08082c" opacity="0.60"/></g>
<filter id="fI_2" filterUnits="userSpaceOnUse" x="1134.2" y="-7.1" width="171.8" height="172.0"><feGaussianBlur stdDeviation="2"/></filter>
<g filter="url(#fI_2)"><ellipse cx="1217.0" cy="56.5" rx="6.0" ry="5.5" fill="#2828a8"/></g>
<filter id="fI_1_8" filterUnits="userSpaceOnUse" x="1134.2" y="-7.1" width="171.8" height="172.0"><feGaussianBlur stdDeviation="1.8"/></filter>
<g filter="url(#fI_1_8)"><ellipse cx="1209.4" cy="50.6" rx="8.0" ry="6.2" fill="#28c840"/></g>
<filter id="fI_1_6" filterUnits="userSpaceOnUse" x="1134.2" y="-7.1" width="171.8" height="172.0"><feGaussianBlur stdDeviation="1.6"/></filter>
<g filter="url(#fI_1_6)"><ellipse cx="1202.5" cy="60.6" rx="9.0" ry="4.2" fill="#f01820"/><ellipse cx="1206.8" cy="55.3" rx="5.0" ry="5.2" fill="#f8f060"/><ellipse cx="1210.0" cy="53.5" rx="3.5" ry="4.0" fill="#e8ffd0" opacity="0.80"/></g>
<filter id="fI_1_5" filterUnits="userSpaceOnUse" x="1134.2" y="-7.1" width="171.8" height="172.0"><feGaussianBlur stdDeviation="1.5"/></filter>
<g filter="url(#fI_1_5)"><ellipse cx="1210.5" cy="62.6" rx="5.0" ry="3.0" fill="#f01878"/><ellipse cx="1183.0" cy="57.0" rx="2.0" ry="2.0" fill="#0c3010"/></g>
<filter id="fI_1_0" filterUnits="userSpaceOnUse" x="1134.2" y="-7.1" width="171.8" height="172.0"><feGaussianBlur stdDeviation="1.0"/></filter>
<g filter="url(#fI_1_0)"><ellipse cx="1283.8" cy="20.0" rx="2.4" ry="2.4" fill="#e8186c"/><ellipse cx="1283.8" cy="36.1" rx="3.0" ry="2.6" fill="#f01870"/></g>
<filter id="fI_0_8" filterUnits="userSpaceOnUse" x="1134.2" y="-7.1" width="171.8" height="172.0"><feGaussianBlur stdDeviation="0.8"/></filter>
<g filter="url(#fI_0_8)"><ellipse cx="1240.7" cy="99.2" rx="1.5" ry="1.2" fill="#a01060"/></g>
</g>
<text x="1364.3" y="255.3" font-family="'Liberation Sans',sans-serif" font-size="25" fill="#2c5cfa" textLength="103.0" lengthAdjust="spacingAndGlyphs">Cerulean</text>
<text x="1341.0" y="288.0" font-family="'Liberation Sans',sans-serif" font-size="25" fill="#14c030" textLength="125.0" lengthAdjust="spacingAndGlyphs">ZBP1-GFP</text>
<text x="1310.2" y="309.8" font-family="'Liberation Sans',sans-serif" font-size="17.5" fill="#fc1010" textLength="156.5" lengthAdjust="spacingAndGlyphs">MS2-<tspan font-style="italic">β</tspan>-actin 3’ UTR</text>
<text x="1310.2" y="329.0" font-family="'Liberation Sans',sans-serif" font-size="17.5" fill="#fc1010" textLength="81.0" lengthAdjust="spacingAndGlyphs">MCP-RFP</text>
<text x="1163.5" y="319.7" font-family="'Liberation Serif',serif" font-size="17.5" fill="#fff" textLength="36.5" lengthAdjust="spacingAndGlyphs">1 µm</text>
<rect x="1167.6" y="327.8" width="23.4" height="1" fill="#fff"/>
<!-- gen_d -->
<clipPath id="cpD0a"><rect x="24" y="357" width="155.1" height="154.4"/></clipPath>
<rect x="24" y="357" width="155.1" height="154.4" fill="#050606"/>
<g clip-path="url(#cpD0a)">
<filter id="fD0a_2_6" filterUnits="userSpaceOnUse" x="4" y="337" width="195.1" height="194.4"><feGaussianBlur stdDeviation="2.6"/></filter>
<g filter="url(#fD0a_2_6)"><path d="M23.3 499.2 L40.9 489.0 L55.0 480.8 L70.7 471.3 L86.9 462.5 L98.1 457.6 L107.7 454.8 L119.0 452.7 L130.0 448.9 L140.6 442.7 L151.7 436.2 L163.0 430.0 L173.4 427.5 L186.3 423.8 L177.7 405.2 L166.6 412.5 L157.0 419.0 L146.1 426.8 L135.4 432.5 L124.8 435.9 L115.0 439.3 L104.1 442.8 L93.9 447.4 L81.9 452.7 L65.3 461.7 L49.4 470.8 L35.1 478.0 L16.7 486.8Z" fill="#146826" opacity="0.90"/></g>
<filter id="fD0a_2_5" filterUnits="userSpaceOnUse" x="4" y="337" width="195.1" height="194.4"><feGaussianBlur stdDeviation="2.5"/></filter>
<g filter="url(#fD0a_2_5)"><ellipse cx="27.0" cy="497.0" rx="5.0" ry="9.0" fill="#1f8a30" opacity="0.80" transform="rotate(20 27.0 497.0)"/></g>
<filter id="fD0a_2_2" filterUnits="userSpaceOnUse" x="4" y="337" width="195.1" height="194.4"><feGaussianBlur stdDeviation="2.2"/></filter>
<g filter="url(#fD0a_2_2)"><ellipse cx="118.0" cy="445.0" rx="8.0" ry="3.4" fill="#7ad63c" opacity="0.90" transform="rotate(-18 118.0 445.0)"/><ellipse cx="174.0" cy="418.0" rx="7.0" ry="5.0" fill="#7ad63c" opacity="0.90" transform="rotate(-25 174.0 418.0)"/><ellipse cx="60.0" cy="471.0" rx="9.0" ry="2.6" fill="#50d040" opacity="0.70" transform="rotate(-29 60.0 471.0)"/><path d="M20.0 378.0 L36.0 370.0 L52.0 363.2 L70.0 357.5" fill="none" stroke="#14501f" stroke-width="4.5" stroke-linecap="round" stroke-linejoin="round" opacity="0.90"/><ellipse cx="98.4" cy="419.8" rx="6.7" ry="9.0" fill="#12501f" opacity="0.90" transform="rotate(-15 98.4 419.8)"/></g>
<filter id="fD0a_2_0" filterUnits="userSpaceOnUse" x="4" y="337" width="195.1" height="194.4"><feGaussianBlur stdDeviation="2.0"/></filter>
<g filter="url(#fD0a_2_0)"><path d="M22.5 497.6 L40.1 487.5 L54.2 479.3 L69.8 469.8 L86.1 461.0 L97.4 456.0 L107.2 453.1 L118.5 451.0 L129.3 447.3 L139.8 441.2 L150.8 434.7 L162.2 428.5 L172.7 425.9 L185.5 422.2 L178.5 406.8 L167.3 414.1 L157.8 420.5 L147.0 428.3 L136.2 434.0 L125.5 437.5 L115.5 441.0 L104.6 444.5 L94.6 449.0 L82.7 454.2 L66.2 463.2 L50.2 472.3 L35.9 479.5 L17.5 488.4Z" fill="#28ac38"/><path d="M21.1 495.1 L39.0 485.3 L53.1 477.4 L68.8 468.0 L85.2 459.1 L96.6 454.1 L106.5 450.7 L117.7 448.3 L128.3 444.6 L138.8 439.2 L149.8 432.9 L161.0 426.3 L171.2 422.7 L183.6 418.0 L180.4 411.0 L168.8 417.3 L159.0 422.7 L148.0 430.1 L137.2 436.0 L126.5 440.2 L116.3 443.7 L105.3 446.9 L95.4 450.9 L83.6 456.1 L67.2 465.0 L51.3 474.2 L37.0 481.7 L18.9 490.9Z" fill="#4ccc3e" opacity="0.90"/><path d="M100.5 428.0 L103.0 436.0 L105.5 443.0" fill="none" stroke="#104a1c" stroke-width="2.6" stroke-linecap="round" stroke-linejoin="round" opacity="0.80"/><ellipse cx="98.4" cy="419.8" rx="4.2" ry="6.0" fill="#1f8a38" opacity="0.95" transform="rotate(-15 98.4 419.8)"/></g>
<text x="27.0" y="369.6" font-family="'Liberation Sans',sans-serif" font-size="10.8" fill="#f0f0f0" textLength="26.5" lengthAdjust="spacingAndGlyphs" stroke="#f0f0f0" stroke-width="0.35">0 sec</text>
<text x="72.5" y="383.0" font-family="'Liberation Sans',sans-serif" font-size="25" fill="#10f020" textLength="102.5" lengthAdjust="spacingAndGlyphs">Cerulean</text>
</g>
<clipPath id="cpD0b"><rect x="180.6" y="357" width="156.5" height="154.4"/></clipPath>
<rect x="180.6" y="357" width="156.5" height="154.4" fill="#050606"/>
<g clip-path="url(#cpD0b)">
<filter id="fD0b_1_0" filterUnits="userSpaceOnUse" x="160.6" y="337" width="196.5" height="194.4"><feGaussianBlur stdDeviation="1.0"/></filter>
<g filter="url(#fD0b_1_0)"><ellipse cx="256.3" cy="425.2" rx="5.2" ry="4.6" fill="#f0181c"/><ellipse cx="283.1" cy="440.2" rx="4.0" ry="7.5" fill="#f0181c" transform="rotate(35 283.1 440.2)"/><ellipse cx="229.4" cy="466.0" rx="6.0" ry="4.6" fill="#f0181c" transform="rotate(-15 229.4 466.0)"/></g>
<filter id="fD0b_0_8" filterUnits="userSpaceOnUse" x="160.6" y="337" width="196.5" height="194.4"><feGaussianBlur stdDeviation="0.8"/></filter>
<g filter="url(#fD0b_0_8)"><ellipse cx="291.7" cy="444.5" rx="2.0" ry="4.5" fill="#f0181c" transform="rotate(30 291.7 444.5)"/><ellipse cx="271.3" cy="449.9" rx="1.5" ry="1.5" fill="#c01418" opacity="0.60"/><ellipse cx="182.2" cy="395.1" rx="1.5" ry="1.5" fill="#f0181c" opacity="0.90"/><ellipse cx="315.3" cy="399.4" rx="1.4" ry="1.4" fill="#c01418" opacity="0.45"/><ellipse cx="326.1" cy="424.1" rx="1.6" ry="1.6" fill="#c01418" opacity="0.70"/><ellipse cx="334.6" cy="423.0" rx="1.8" ry="1.6" fill="#c01418" opacity="0.80"/><ellipse cx="311.0" cy="429.7" rx="1.3" ry="1.3" fill="#c01418" opacity="0.40"/><ellipse cx="315.5" cy="429.9" rx="1.3" ry="1.3" fill="#c01418" opacity="0.40"/><ellipse cx="188.6" cy="502.5" rx="1.6" ry="1.6" fill="#c01418" opacity="0.80"/><ellipse cx="248.1" cy="456.3" rx="1.2" ry="1.4" fill="#c01418" opacity="0.50"/><ellipse cx="330.0" cy="421.0" rx="1.2" ry="1.2" fill="#c01418" opacity="0.50"/></g>
<text x="189.5" y="373.8" font-family="'Liberation Sans',sans-serif" font-size="17.5" fill="#fa1414" textLength="113.0" lengthAdjust="spacingAndGlyphs">MS2-CamKII<tspan font-style="italic">α</tspan></text>
<text x="189.5" y="392.0" font-family="'Liberation Sans',sans-serif" font-size="17.5" fill="#fa1414" textLength="141.0" lengthAdjust="spacingAndGlyphs">3’ UTR/MCP-RFP</text>
</g>
<clipPath id="cpD0c"><rect x="338.6" y="357" width="156.4" height="154.4"/></clipPath>
<rect x="338.6" y="357" width="156.4" height="154.4" fill="#050606"/>
<g clip-path="url(#cpD0c)">
<filter id="fD0c_2_6" filterUnits="userSpaceOnUse" x="318.6" y="337" width="196.4" height="194.4"><feGaussianBlur stdDeviation="2.6"/></filter>
<g filter="url(#fD0c_2_6)"><path d="M338.3 499.2 L355.9 489.0 L370.0 480.8 L385.7 471.3 L401.9 462.5 L413.1 457.6 L422.7 454.8 L434.0 452.7 L445.0 448.9 L455.6 442.7 L466.7 436.2 L478.0 430.0 L488.4 427.5 L501.3 423.8 L492.7 405.2 L481.6 412.5 L472.0 419.0 L461.1 426.8 L450.4 432.5 L439.8 435.9 L430.0 439.3 L419.1 442.8 L408.9 447.4 L396.9 452.7 L380.3 461.7 L364.4 470.8 L350.1 478.0 L331.7 486.8Z" fill="#146826" opacity="0.90"/></g>
<filter id="fD0c_2_5" filterUnits="userSpaceOnUse" x="318.6" y="337" width="196.4" height="194.4"><feGaussianBlur stdDeviation="2.5"/></filter>
<g filter="url(#fD0c_2_5)"><ellipse cx="342.0" cy="497.0" rx="5.0" ry="9.0" fill="#1f8a30" opacity="0.80" transform="rotate(20 342.0 497.0)"/></g>
<filter id="fD0c_2_2" filterUnits="userSpaceOnUse" x="318.6" y="337" width="196.4" height="194.4"><feGaussianBlur stdDeviation="2.2"/></filter>
<g filter="url(#fD0c_2_2)"><ellipse cx="433.0" cy="445.0" rx="8.0" ry="3.4" fill="#7ad63c" opacity="0.90" transform="rotate(-18 433.0 445.0)"/><ellipse cx="489.0" cy="418.0" rx="7.0" ry="5.0" fill="#7ad63c" opacity="0.90" transform="rotate(-25 489.0 418.0)"/><ellipse cx="375.0" cy="471.0" rx="9.0" ry="2.6" fill="#50d040" opacity="0.70" transform="rotate(-29 375.0 471.0)"/><path d="M335.0 378.0 L351.0 370.0 L367.0 363.2 L385.0 357.5" fill="none" stroke="#14501f" stroke-width="4.5" stroke-linecap="round" stroke-linejoin="round" opacity="0.90"/><ellipse cx="412.9" cy="418.8" rx="6.7" ry="9.0" fill="#12501f" opacity="0.90" transform="rotate(-15 412.9 418.8)"/></g>
<filter id="fD0c_2_0" filterUnits="userSpaceOnUse" x="318.6" y="337" width="196.4" height="194.4"><feGaussianBlur stdDeviation="2.0"/></filter>
<g filter="url(#fD0c_2_0)"><path d="M337.5 497.6 L355.1 487.5 L369.2 479.3 L384.8 469.8 L401.1 461.0 L412.4 456.0 L422.2 453.1 L433.5 451.0 L444.3 447.3 L454.8 441.2 L465.8 434.7 L477.2 428.5 L487.7 425.9 L500.5 422.2 L493.5 406.8 L482.3 414.1 L472.8 420.5 L462.0 428.3 L451.2 434.0 L440.5 437.5 L430.5 441.0 L419.6 444.5 L409.6 449.0 L397.7 454.2 L381.2 463.2 L365.2 472.3 L350.9 479.5 L332.5 488.4Z" fill="#28ac38"/><path d="M336.1 495.1 L354.0 485.3 L368.1 477.4 L383.8 468.0 L400.2 459.1 L411.6 454.1 L421.5 450.7 L432.7 448.3 L443.3 444.6 L453.8 439.2 L464.8 432.9 L476.0 426.3 L486.2 422.7 L498.6 418.0 L495.4 411.0 L483.8 417.3 L474.0 422.7 L463.0 430.1 L452.2 436.0 L441.5 440.2 L431.3 443.7 L420.3 446.9 L410.4 450.9 L398.6 456.1 L382.2 465.0 L366.3 474.2 L352.0 481.7 L333.9 490.9Z" fill="#4ccc3e" opacity="0.90"/><path d="M415.5 428.0 L418.0 436.0 L420.5 443.0" fill="none" stroke="#104a1c" stroke-width="2.6" stroke-linecap="round" stroke-linejoin="round" opacity="0.80"/><ellipse cx="412.9" cy="417.8" rx="4.2" ry="6.0" fill="#1f8a38" opacity="0.95" transform="rotate(-15 412.9 417.8)"/></g>
<filter id="fD0c_1_2" filterUnits="userSpaceOnUse" x="318.6" y="337" width="196.4" height="194.4"><feGaussianBlur stdDeviation="1.2"/></filter>
<g filter="url(#fD0c_1_2)"><ellipse cx="412.8" cy="425.7" rx="4.6" ry="4.8" fill="#f05018"/><ellipse cx="412.0" cy="428.0" rx="2.5" ry="2.5" fill="#f03018"/><ellipse cx="440.0" cy="439.8" rx="4.4" ry="5.6" fill="#e8e020"/><ellipse cx="448.1" cy="444.9" rx="2.2" ry="3.0" fill="#f08018"/><ellipse cx="386.5" cy="465.5" rx="5.5" ry="4.0" fill="#f0b020"/><ellipse cx="389.0" cy="463.0" rx="2.2" ry="2.5" fill="#f05818"/></g>
<filter id="fD0c_0_8" filterUnits="userSpaceOnUse" x="318.6" y="337" width="196.4" height="194.4"><feGaussianBlur stdDeviation="0.8"/></filter>
<g filter="url(#fD0c_0_8)"><ellipse cx="371.4" cy="368.2" rx="1.6" ry="1.6" fill="#d01418" opacity="0.90"/><ellipse cx="387.5" cy="387.4" rx="1.3" ry="1.3" fill="#d01418" opacity="0.40"/><ellipse cx="471.3" cy="398.5" rx="1.5" ry="1.5" fill="#d01418" opacity="0.40"/><ellipse cx="344.1" cy="502.4" rx="1.6" ry="1.6" fill="#d01418" opacity="0.70"/><ellipse cx="339.5" cy="395.4" rx="1.4" ry="1.4" fill="#d01418" opacity="0.80"/><ellipse cx="362.0" cy="370.0" rx="1.1" ry="1.1" fill="#d01418" opacity="0.40"/></g>
<path d="M442.7 390.3 L426.6 406.3" stroke="#fff" stroke-width="1.1" fill="none"/><path d="M422.3 410.6 L425.8 402.1 L426.6 406.3 L430.9 407.2Z" fill="#fff"/>
<text x="404.8" y="376.2" font-family="'Liberation Sans',sans-serif" font-size="25" fill="#fff" textLength="72.0" lengthAdjust="spacingAndGlyphs">Merge</text>
</g>
<clipPath id="cpD1a"><rect x="24" y="512.8" width="155.1" height="155.8"/></clipPath>
<rect x="24" y="512.8" width="155.1" height="155.8" fill="#050606"/>
<g clip-path="url(#cpD1a)">
<filter id="fD1a_2_6" filterUnits="userSpaceOnUse" x="4" y="492.79999999999995" width="195.1" height="195.8"><feGaussianBlur stdDeviation="2.6"/></filter>
<g filter="url(#fD1a_2_6)"><path d="M23.3 655.7 L40.9 645.5 L55.0 637.3 L70.7 627.8 L86.9 619.0 L98.1 614.1 L107.7 611.3 L119.0 609.2 L130.0 605.4 L140.6 599.2 L151.7 592.7 L163.0 586.5 L173.4 584.0 L186.3 580.3 L177.7 561.7 L166.6 569.0 L157.0 575.5 L146.1 583.3 L135.4 589.0 L124.8 592.4 L115.0 595.8 L104.1 599.3 L93.9 603.9 L81.9 609.2 L65.3 618.2 L49.4 627.3 L35.1 634.5 L16.7 643.3Z" fill="#146826" opacity="0.90"/></g>
<filter id="fD1a_2_5" filterUnits="userSpaceOnUse" x="4" y="492.79999999999995" width="195.1" height="195.8"><feGaussianBlur stdDeviation="2.5"/></filter>
<g filter="url(#fD1a_2_5)"><ellipse cx="27.0" cy="653.5" rx="5.0" ry="9.0" fill="#1f8a30" opacity="0.80" transform="rotate(20 27.0 653.5)"/></g>
<filter id="fD1a_2_2" filterUnits="userSpaceOnUse" x="4" y="492.79999999999995" width="195.1" height="195.8"><feGaussianBlur stdDeviation="2.2"/></filter>
<g filter="url(#fD1a_2_2)"><ellipse cx="118.0" cy="601.5" rx="8.0" ry="3.4" fill="#7ad63c" opacity="0.90" transform="rotate(-18 118.0 601.5)"/><ellipse cx="174.0" cy="574.5" rx="7.0" ry="5.0" fill="#7ad63c" opacity="0.90" transform="rotate(-25 174.0 574.5)"/><ellipse cx="60.0" cy="627.5" rx="9.0" ry="2.6" fill="#50d040" opacity="0.70" transform="rotate(-29 60.0 627.5)"/><path d="M20.0 534.5 L36.0 526.5 L52.0 519.7 L70.0 514.0" fill="none" stroke="#14501f" stroke-width="4.5" stroke-linecap="round" stroke-linejoin="round" opacity="0.90"/><ellipse cx="98.4" cy="576.5" rx="6.9" ry="9.0" fill="#12501f" opacity="0.90" transform="rotate(-20 98.4 576.5)"/></g>
<filter id="fD1a_2_0" filterUnits="userSpaceOnUse" x="4" y="492.79999999999995" width="195.1" height="195.8"><feGaussianBlur stdDeviation="2.0"/></filter>
<g filter="url(#fD1a_2_0)"><path d="M22.5 654.1 L40.1 644.0 L54.2 635.8 L69.8 626.3 L86.1 617.5 L97.4 612.5 L107.2 609.6 L118.5 607.5 L129.3 603.8 L139.8 597.7 L150.8 591.2 L162.2 585.0 L172.7 582.4 L185.5 578.7 L178.5 563.3 L167.3 570.6 L157.8 577.0 L147.0 584.8 L136.2 590.5 L125.5 594.0 L115.5 597.5 L104.6 601.0 L94.6 605.5 L82.7 610.7 L66.2 619.7 L50.2 628.8 L35.9 636.0 L17.5 644.9Z" fill="#28ac38"/><path d="M21.1 651.6 L39.0 641.8 L53.1 633.9 L68.8 624.5 L85.2 615.6 L96.6 610.6 L106.5 607.2 L117.7 604.8 L128.3 601.1 L138.8 595.7 L149.8 589.4 L161.0 582.8 L171.2 579.2 L183.6 574.5 L180.4 567.5 L168.8 573.8 L159.0 579.2 L148.0 586.6 L137.2 592.5 L126.5 596.7 L116.3 600.2 L105.3 603.4 L95.4 607.4 L83.6 612.6 L67.2 621.5 L51.3 630.7 L37.0 638.2 L18.9 647.4Z" fill="#4ccc3e" opacity="0.90"/><path d="M100.5 584.5 L103.0 592.5 L105.5 599.5" fill="none" stroke="#104a1c" stroke-width="2.6" stroke-linecap="round" stroke-linejoin="round" opacity="0.80"/><ellipse cx="98.4" cy="576.5" rx="4.3" ry="6.0" fill="#1f8a38" opacity="0.95" transform="rotate(-20 98.4 576.5)"/></g>
<text x="27.0" y="526.1" font-family="'Liberation Sans',sans-serif" font-size="10.8" fill="#f0f0f0" textLength="33.0" lengthAdjust="spacingAndGlyphs" stroke="#f0f0f0" stroke-width="0.35">12 sec</text>
</g>
<clipPath id="cpD1b"><rect x="180.6" y="512.8" width="156.5" height="155.8"/></clipPath>
<rect x="180.6" y="512.8" width="156.5" height="155.8" fill="#050606"/>
<g clip-path="url(#cpD1b)">
<filter id="fD1b_1_0" filterUnits="userSpaceOnUse" x="160.6" y="492.79999999999995" width="196.5" height="195.8"><feGaussianBlur stdDeviation="1.0"/></filter>
<g filter="url(#fD1b_1_0)"><ellipse cx="255.2" cy="579.1" rx="4.2" ry="5.6" fill="#f0181c" transform="rotate(-20 255.2 579.1)"/><ellipse cx="291.9" cy="592.4" rx="4.4" ry="4.2" fill="#f0181c"/><ellipse cx="285.9" cy="603.8" rx="4.8" ry="3.2" fill="#f0181c"/><ellipse cx="234.3" cy="623.6" rx="6.2" ry="4.6" fill="#f0181c"/><ellipse cx="333.0" cy="575.9" rx="5.0" ry="6.0" fill="#f0181c" transform="rotate(20 333.0 575.9)"/></g>
<filter id="fD1b_0_8" filterUnits="userSpaceOnUse" x="160.6" y="492.79999999999995" width="196.5" height="195.8"><feGaussianBlur stdDeviation="0.8"/></filter>
<g filter="url(#fD1b_0_8)"><ellipse cx="284.6" cy="593.5" rx="1.8" ry="2.0" fill="#f0181c" opacity="0.90"/><ellipse cx="245.9" cy="621.6" rx="1.5" ry="1.5" fill="#c01418" opacity="0.70"/><ellipse cx="325.4" cy="584.5" rx="1.5" ry="1.5" fill="#c01418" opacity="0.80"/><ellipse cx="183.7" cy="523.7" rx="1.5" ry="1.5" fill="#c01418" opacity="0.80"/><ellipse cx="227.3" cy="525.4" rx="1.1" ry="1.1" fill="#c01418" opacity="0.45"/><ellipse cx="283.7" cy="536.1" rx="1.6" ry="1.6" fill="#f0181c" opacity="0.90"/><ellipse cx="256.3" cy="536.1" rx="1.1" ry="1.1" fill="#c01418" opacity="0.40"/><ellipse cx="201.5" cy="639.2" rx="1.2" ry="1.4" fill="#c01418" opacity="0.35"/><ellipse cx="290.0" cy="520.5" rx="1.2" ry="1.2" fill="#c01418" opacity="0.30"/><ellipse cx="261.0" cy="592.0" rx="1.0" ry="1.3" fill="#c01418" opacity="0.40"/></g>
</g>
<clipPath id="cpD1c"><rect x="338.6" y="512.8" width="156.4" height="155.8"/></clipPath>
<rect x="338.6" y="512.8" width="156.4" height="155.8" fill="#050606"/>
<g clip-path="url(#cpD1c)">
<filter id="fD1c_2_6" filterUnits="userSpaceOnUse" x="318.6" y="492.79999999999995" width="196.4" height="195.8"><feGaussianBlur stdDeviation="2.6"/></filter>
<g filter="url(#fD1c_2_6)"><path d="M338.3 655.7 L355.9 645.5 L370.0 637.3 L385.7 627.8 L401.9 619.0 L413.1 614.1 L422.7 611.3 L434.0 609.2 L445.0 605.4 L455.6 599.2 L466.7 592.7 L478.0 586.5 L488.4 584.0 L501.3 580.3 L492.7 561.7 L481.6 569.0 L472.0 575.5 L461.1 583.3 L450.4 589.0 L439.8 592.4 L430.0 595.8 L419.1 599.3 L408.9 603.9 L396.9 609.2 L380.3 618.2 L364.4 627.3 L350.1 634.5 L331.7 643.3Z" fill="#146826" opacity="0.90"/></g>
<filter id="fD1c_2_5" filterUnits="userSpaceOnUse" x="318.6" y="492.79999999999995" width="196.4" height="195.8"><feGaussianBlur stdDeviation="2.5"/></filter>
<g filter="url(#fD1c_2_5)"><ellipse cx="342.0" cy="653.5" rx="5.0" ry="9.0" fill="#1f8a30" opacity="0.80" transform="rotate(20 342.0 653.5)"/></g>
<filter id="fD1c_2_2" filterUnits="userSpaceOnUse" x="318.6" y="492.79999999999995" width="196.4" height="195.8"><feGaussianBlur stdDeviation="2.2"/></filter>
<g filter="url(#fD1c_2_2)"><ellipse cx="433.0" cy="601.5" rx="8.0" ry="3.4" fill="#7ad63c" opacity="0.90" transform="rotate(-18 433.0 601.5)"/><ellipse cx="489.0" cy="574.5" rx="7.0" ry="5.0" fill="#7ad63c" opacity="0.90" transform="rotate(-25 489.0 574.5)"/><ellipse cx="375.0" cy="627.5" rx="9.0" ry="2.6" fill="#50d040" opacity="0.70" transform="rotate(-29 375.0 627.5)"/><path d="M335.0 534.5 L351.0 526.5 L367.0 519.7 L385.0 514.0" fill="none" stroke="#14501f" stroke-width="4.5" stroke-linecap="round" stroke-linejoin="round" opacity="0.90"/><ellipse cx="412.9" cy="575.5" rx="6.9" ry="9.0" fill="#12501f" opacity="0.90" transform="rotate(-20 412.9 575.5)"/></g>
<filter id="fD1c_2_0" filterUnits="userSpaceOnUse" x="318.6" y="492.79999999999995" width="196.4" height="195.8"><feGaussianBlur stdDeviation="2.0"/></filter>
<g filter="url(#fD1c_2_0)"><path d="M337.5 654.1 L355.1 644.0 L369.2 635.8 L384.8 626.3 L401.1 617.5 L412.4 612.5 L422.2 609.6 L433.5 607.5 L444.3 603.8 L454.8 597.7 L465.8 591.2 L477.2 585.0 L487.7 582.4 L500.5 578.7 L493.5 563.3 L482.3 570.6 L472.8 577.0 L462.0 584.8 L451.2 590.5 L440.5 594.0 L430.5 597.5 L419.6 601.0 L409.6 605.5 L397.7 610.7 L381.2 619.7 L365.2 628.8 L350.9 636.0 L332.5 644.9Z" fill="#28ac38"/><path d="M336.1 651.6 L354.0 641.8 L368.1 633.9 L383.8 624.5 L400.2 615.6 L411.6 610.6 L421.5 607.2 L432.7 604.8 L443.3 601.1 L453.8 595.7 L464.8 589.4 L476.0 582.8 L486.2 579.2 L498.6 574.5 L495.4 567.5 L483.8 573.8 L474.0 579.2 L463.0 586.6 L452.2 592.5 L441.5 596.7 L431.3 600.2 L420.3 603.4 L410.4 607.4 L398.6 612.6 L382.2 621.5 L366.3 630.7 L352.0 638.2 L333.9 647.4Z" fill="#4ccc3e" opacity="0.90"/><path d="M415.5 584.5 L418.0 592.5 L420.5 599.5" fill="none" stroke="#104a1c" stroke-width="2.6" stroke-linecap="round" stroke-linejoin="round" opacity="0.80"/><ellipse cx="412.9" cy="574.5" rx="4.3" ry="6.0" fill="#1f8a38" opacity="0.95" transform="rotate(-20 412.9 574.5)"/></g>
<filter id="fD1c_1_2" filterUnits="userSpaceOnUse" x="318.6" y="492.79999999999995" width="196.4" height="195.8"><feGaussianBlur stdDeviation="1.2"/></filter>
<g filter="url(#fD1c_1_2)"><ellipse cx="411.8" cy="579.7" rx="4.4" ry="5.8" fill="#f06018"/><ellipse cx="449.1" cy="592.2" rx="3.8" ry="3.8" fill="#f0a020"/><ellipse cx="443.1" cy="602.9" rx="4.6" ry="2.8" fill="#e8d020"/><ellipse cx="447.0" cy="603.0" rx="1.8" ry="2.0" fill="#f07018"/><ellipse cx="440.0" cy="593.0" rx="2.2" ry="2.5" fill="#e0e030"/><ellipse cx="390.6" cy="623.1" rx="5.6" ry="4.0" fill="#f0d020"/><ellipse cx="395.0" cy="620.0" rx="2.0" ry="2.0" fill="#f08018"/><ellipse cx="489.5" cy="575.7" rx="3.6" ry="4.8" fill="#e0e828"/></g>
<filter id="fD1c_0_8" filterUnits="userSpaceOnUse" x="318.6" y="492.79999999999995" width="196.4" height="195.8"><feGaussianBlur stdDeviation="0.8"/></filter>
<g filter="url(#fD1c_0_8)"><ellipse cx="440.0" cy="535.7" rx="1.6" ry="1.6" fill="#d01418" opacity="0.90"/><ellipse cx="411.8" cy="536.3" rx="1.2" ry="1.2" fill="#d01418" opacity="0.45"/><ellipse cx="383.5" cy="525.2" rx="1.2" ry="1.2" fill="#d01418" opacity="0.40"/><ellipse cx="444.1" cy="584.1" rx="1.3" ry="1.3" fill="#d01418" opacity="0.50"/><ellipse cx="446.0" cy="521.2" rx="1.1" ry="1.1" fill="#d01418" opacity="0.35"/><ellipse cx="417.0" cy="592.0" rx="1.0" ry="1.0" fill="#d01418" opacity="0.40"/><ellipse cx="340.5" cy="523.5" rx="1.3" ry="1.3" fill="#d01418" opacity="0.70"/></g>
<path d="M442.7 547.3 L426.6 563.4" stroke="#fff" stroke-width="1.1" fill="none"/><path d="M422.3 567.7 L425.8 559.1 L426.6 563.4 L430.9 564.2Z" fill="#fff"/>
</g>
<clipPath id="cpD2a"><rect x="24" y="670" width="155.1" height="157.7"/></clipPath>
<rect x="24" y="670" width="155.1" height="157.7" fill="#050606"/>
<g clip-path="url(#cpD2a)">
<filter id="fD2a_2_6" filterUnits="userSpaceOnUse" x="4" y="650" width="195.1" height="197.7"><feGaussianBlur stdDeviation="2.6"/></filter>
<g filter="url(#fD2a_2_6)"><path d="M23.3 812.8 L40.9 802.6 L55.0 794.4 L70.7 784.9 L86.9 776.1 L98.1 771.2 L107.7 768.4 L119.0 766.3 L130.0 762.5 L140.6 756.3 L151.7 749.8 L163.0 743.6 L173.4 741.1 L186.3 737.4 L177.7 718.8 L166.6 726.1 L157.0 732.6 L146.1 740.4 L135.4 746.1 L124.8 749.5 L115.0 752.9 L104.1 756.4 L93.9 761.0 L81.9 766.3 L65.3 775.3 L49.4 784.4 L35.1 791.6 L16.7 800.4Z" fill="#146826" opacity="0.90"/></g>
<filter id="fD2a_2_5" filterUnits="userSpaceOnUse" x="4" y="650" width="195.1" height="197.7"><feGaussianBlur stdDeviation="2.5"/></filter>
<g filter="url(#fD2a_2_5)"><ellipse cx="27.0" cy="810.6" rx="5.0" ry="9.0" fill="#1f8a30" opacity="0.80" transform="rotate(20 27.0 810.6)"/></g>
<filter id="fD2a_2_2" filterUnits="userSpaceOnUse" x="4" y="650" width="195.1" height="197.7"><feGaussianBlur stdDeviation="2.2"/></filter>
<g filter="url(#fD2a_2_2)"><ellipse cx="118.0" cy="758.6" rx="8.0" ry="3.4" fill="#7ad63c" opacity="0.90" transform="rotate(-18 118.0 758.6)"/><ellipse cx="174.0" cy="731.6" rx="7.0" ry="5.0" fill="#7ad63c" opacity="0.90" transform="rotate(-25 174.0 731.6)"/><ellipse cx="60.0" cy="784.6" rx="9.0" ry="2.6" fill="#50d040" opacity="0.70" transform="rotate(-29 60.0 784.6)"/><path d="M20.0 691.6 L36.0 683.6 L52.0 676.8 L70.0 671.1" fill="none" stroke="#14501f" stroke-width="4.5" stroke-linecap="round" stroke-linejoin="round" opacity="0.90"/><ellipse cx="98.6" cy="734.6" rx="5.7" ry="10.1" fill="#12501f" opacity="0.90" transform="rotate(-20 98.6 734.6)"/></g>
<filter id="fD2a_2_0" filterUnits="userSpaceOnUse" x="4" y="650" width="195.1" height="197.7"><feGaussianBlur stdDeviation="2.0"/></filter>
<g filter="url(#fD2a_2_0)"><path d="M22.5 811.2 L40.1 801.1 L54.2 792.9 L69.8 783.4 L86.1 774.6 L97.4 769.6 L107.2 766.7 L118.5 764.6 L129.3 760.9 L139.8 754.8 L150.8 748.3 L162.2 742.1 L172.7 739.5 L185.5 735.8 L178.5 720.4 L167.3 727.7 L157.8 734.1 L147.0 741.9 L136.2 747.6 L125.5 751.1 L115.5 754.6 L104.6 758.1 L94.6 762.6 L82.7 767.8 L66.2 776.8 L50.2 785.9 L35.9 793.1 L17.5 802.0Z" fill="#28ac38"/><path d="M21.1 808.7 L39.0 798.9 L53.1 791.0 L68.8 781.6 L85.2 772.7 L96.6 767.7 L106.5 764.3 L117.7 761.9 L128.3 758.2 L138.8 752.8 L149.8 746.5 L161.0 739.9 L171.2 736.3 L183.6 731.6 L180.4 724.6 L168.8 730.9 L159.0 736.3 L148.0 743.7 L137.2 749.6 L126.5 753.8 L116.3 757.3 L105.3 760.5 L95.4 764.5 L83.6 769.7 L67.2 778.6 L51.3 787.8 L37.0 795.3 L18.9 804.5Z" fill="#4ccc3e" opacity="0.90"/><path d="M100.5 741.6 L103.0 749.6 L105.5 756.6" fill="none" stroke="#104a1c" stroke-width="2.6" stroke-linecap="round" stroke-linejoin="round" opacity="0.80"/><ellipse cx="98.6" cy="734.6" rx="3.4" ry="6.9" fill="#1f8a38" opacity="0.95" transform="rotate(-20 98.6 734.6)"/></g>
<text x="27.0" y="683.2" font-family="'Liberation Sans',sans-serif" font-size="10.8" fill="#f0f0f0" textLength="33.0" lengthAdjust="spacingAndGlyphs" stroke="#f0f0f0" stroke-width="0.35">40 sec</text>
</g>
<clipPath id="cpD2b"><rect x="180.6" y="670" width="156.5" height="157.7"/></clipPath>
<rect x="180.6" y="670" width="156.5" height="157.7" fill="#050606"/>
<g clip-path="url(#cpD2b)">
<filter id="fD2b_1_0" filterUnits="userSpaceOnUse" x="160.6" y="650" width="196.5" height="197.7"><feGaussianBlur stdDeviation="1.0"/></filter>
<g filter="url(#fD2b_1_0)"><ellipse cx="255.8" cy="735.0" rx="3.8" ry="3.6" fill="#f0181c"/><ellipse cx="257.3" cy="743.2" rx="4.4" ry="4.2" fill="#f0181c"/><ellipse cx="290.8" cy="754.6" rx="4.8" ry="5.2" fill="#f0181c"/><ellipse cx="232.8" cy="777.5" rx="4.4" ry="4.8" fill="#f0181c"/><ellipse cx="326.5" cy="738.5" rx="6.5" ry="2.8" fill="#f0181c" transform="rotate(-8 326.5 738.5)"/></g>
<filter id="fD2b_0_8" filterUnits="userSpaceOnUse" x="160.6" y="650" width="196.5" height="197.7"><feGaussianBlur stdDeviation="0.8"/></filter>
<g filter="url(#fD2b_0_8)"><ellipse cx="292.8" cy="761.9" rx="1.8" ry="2.2" fill="#f0181c" opacity="0.90"/><ellipse cx="225.0" cy="784.5" rx="2.2" ry="5.5" fill="#f0181c" transform="rotate(50 225.0 784.5)"/><ellipse cx="220.0" cy="788.5" rx="1.5" ry="2.0" fill="#f0181c" opacity="0.90"/><ellipse cx="321.0" cy="741.5" rx="1.8" ry="2.0" fill="#f0181c" opacity="0.90"/><ellipse cx="331.0" cy="741.0" rx="1.8" ry="2.0" fill="#f0181c" opacity="0.90"/><ellipse cx="336.0" cy="734.0" rx="1.4" ry="2.0" fill="#c01418" opacity="0.70"/><ellipse cx="252.6" cy="692.7" rx="1.5" ry="1.5" fill="#f0181c" opacity="0.90"/><ellipse cx="315.3" cy="682.4" rx="1.1" ry="1.1" fill="#c01418" opacity="0.50"/><ellipse cx="206.4" cy="677.0" rx="1.1" ry="1.1" fill="#c01418" opacity="0.30"/><ellipse cx="206.4" cy="709.7" rx="1.1" ry="1.1" fill="#c01418" opacity="0.35"/><ellipse cx="188.2" cy="808.0" rx="1.6" ry="1.6" fill="#c01418" opacity="0.80"/><ellipse cx="196.1" cy="785.5" rx="1.1" ry="1.3" fill="#c01418" opacity="0.35"/></g>
</g>
<clipPath id="cpD2c"><rect x="338.6" y="670" width="156.4" height="157.7"/></clipPath>
<rect x="338.6" y="670" width="156.4" height="157.7" fill="#050606"/>
<g clip-path="url(#cpD2c)">
<filter id="fD2c_2_6" filterUnits="userSpaceOnUse" x="318.6" y="650" width="196.4" height="197.7"><feGaussianBlur stdDeviation="2.6"/></filter>
<g filter="url(#fD2c_2_6)"><path d="M338.3 812.8 L355.9 802.6 L370.0 794.4 L385.7 784.9 L401.9 776.1 L413.1 771.2 L422.7 768.4 L434.0 766.3 L445.0 762.5 L455.6 756.3 L466.7 749.8 L478.0 743.6 L488.4 741.1 L501.3 737.4 L492.7 718.8 L481.6 726.1 L472.0 732.6 L461.1 740.4 L450.4 746.1 L439.8 749.5 L430.0 752.9 L419.1 756.4 L408.9 761.0 L396.9 766.3 L380.3 775.3 L364.4 784.4 L350.1 791.6 L331.7 800.4Z" fill="#146826" opacity="0.90"/></g>
<filter id="fD2c_2_5" filterUnits="userSpaceOnUse" x="318.6" y="650" width="196.4" height="197.7"><feGaussianBlur stdDeviation="2.5"/></filter>
<g filter="url(#fD2c_2_5)"><ellipse cx="342.0" cy="810.6" rx="5.0" ry="9.0" fill="#1f8a30" opacity="0.80" transform="rotate(20 342.0 810.6)"/></g>
<filter id="fD2c_2_2" filterUnits="userSpaceOnUse" x="318.6" y="650" width="196.4" height="197.7"><feGaussianBlur stdDeviation="2.2"/></filter>
<g filter="url(#fD2c_2_2)"><ellipse cx="433.0" cy="758.6" rx="8.0" ry="3.4" fill="#7ad63c" opacity="0.90" transform="rotate(-18 433.0 758.6)"/><ellipse cx="489.0" cy="731.6" rx="7.0" ry="5.0" fill="#7ad63c" opacity="0.90" transform="rotate(-25 489.0 731.6)"/><ellipse cx="375.0" cy="784.6" rx="9.0" ry="2.6" fill="#50d040" opacity="0.70" transform="rotate(-29 375.0 784.6)"/><path d="M335.0 691.6 L351.0 683.6 L367.0 676.8 L385.0 671.1" fill="none" stroke="#14501f" stroke-width="4.5" stroke-linecap="round" stroke-linejoin="round" opacity="0.90"/><ellipse cx="413.1" cy="733.6" rx="5.7" ry="10.1" fill="#12501f" opacity="0.90" transform="rotate(-20 413.1 733.6)"/></g>
<filter id="fD2c_2_0" filterUnits="userSpaceOnUse" x="318.6" y="650" width="196.4" height="197.7"><feGaussianBlur stdDeviation="2.0"/></filter>
<g filter="url(#fD2c_2_0)"><path d="M337.5 811.2 L355.1 801.1 L369.2 792.9 L384.8 783.4 L401.1 774.6 L412.4 769.6 L422.2 766.7 L433.5 764.6 L444.3 760.9 L454.8 754.8 L465.8 748.3 L477.2 742.1 L487.7 739.5 L500.5 735.8 L493.5 720.4 L482.3 727.7 L472.8 734.1 L462.0 741.9 L451.2 747.6 L440.5 751.1 L430.5 754.6 L419.6 758.1 L409.6 762.6 L397.7 767.8 L381.2 776.8 L365.2 785.9 L350.9 793.1 L332.5 802.0Z" fill="#28ac38"/><path d="M336.1 808.7 L354.0 798.9 L368.1 791.0 L383.8 781.6 L400.2 772.7 L411.6 767.7 L421.5 764.3 L432.7 761.9 L443.3 758.2 L453.8 752.8 L464.8 746.5 L476.0 739.9 L486.2 736.3 L498.6 731.6 L495.4 724.6 L483.8 730.9 L474.0 736.3 L463.0 743.7 L452.2 749.6 L441.5 753.8 L431.3 757.3 L420.3 760.5 L410.4 764.5 L398.6 769.7 L382.2 778.6 L366.3 787.8 L352.0 795.3 L333.9 804.5Z" fill="#4ccc3e" opacity="0.90"/><path d="M415.5 741.6 L418.0 749.6 L420.5 756.6" fill="none" stroke="#104a1c" stroke-width="2.6" stroke-linecap="round" stroke-linejoin="round" opacity="0.80"/><ellipse cx="413.1" cy="732.6" rx="3.4" ry="6.9" fill="#1f8a38" opacity="0.95" transform="rotate(-20 413.1 732.6)"/></g>
<filter id="fD2c_1_2" filterUnits="userSpaceOnUse" x="318.6" y="650" width="196.4" height="197.7"><feGaussianBlur stdDeviation="1.2"/></filter>
<g filter="url(#fD2c_1_2)"><ellipse cx="411.8" cy="733.7" rx="3.6" ry="3.2" fill="#f07018"/><ellipse cx="412.8" cy="742.8" rx="4.6" ry="4.0" fill="#f04018"/><ellipse cx="447.1" cy="755.3" rx="4.0" ry="5.2" fill="#e8d020"/><ellipse cx="449.5" cy="762.0" rx="1.5" ry="2.5" fill="#f06018"/><ellipse cx="389.6" cy="778.1" rx="4.6" ry="4.8" fill="#f0c020"/><ellipse cx="380.0" cy="785.5" rx="2.0" ry="4.5" fill="#e0c828"/><ellipse cx="484.5" cy="739.7" rx="3.6" ry="2.6" fill="#e0d828"/><ellipse cx="477.0" cy="741.5" rx="1.4" ry="1.8" fill="#e0a020"/></g>
<filter id="fD2c_0_8" filterUnits="userSpaceOnUse" x="318.6" y="650" width="196.4" height="197.7"><feGaussianBlur stdDeviation="0.8"/></filter>
<g filter="url(#fD2c_0_8)"><ellipse cx="408.3" cy="692.7" rx="1.6" ry="1.6" fill="#d01418" opacity="0.90"/><ellipse cx="471.3" cy="682.2" rx="1.2" ry="1.2" fill="#d01418" opacity="0.50"/><ellipse cx="362.0" cy="709.0" rx="1.0" ry="1.0" fill="#d01418" opacity="0.30"/><ellipse cx="456.0" cy="719.0" rx="1.0" ry="1.0" fill="#d01418" opacity="0.30"/><ellipse cx="352.0" cy="784.5" rx="1.2" ry="1.2" fill="#d01418" opacity="0.30"/></g>
<path d="M442.7 704.3 L426.6 720.2" stroke="#fff" stroke-width="1.1" fill="none"/><path d="M422.3 724.5 L425.8 716.0 L426.6 720.2 L430.9 721.1Z" fill="#fff"/>
<text x="453.2" y="815.6" font-family="'Liberation Serif',serif" font-size="19" fill="#fff" textLength="37.5" lengthAdjust="spacingAndGlyphs">1 µm</text>
<rect x="476.3" y="821.5" width="12.7" height="3" fill="#ffe8e8"/>
</g>
<rect x="24" y="511.5" width="471" height="1.2" fill="#f2f2f2"/>
<rect x="24" y="668.7" width="471" height="1.2" fill="#f2f2f2"/>
<rect x="179.2" y="357" width="1.2" height="470.7" fill="#747474"/>
<rect x="337.2" y="357" width="1.2" height="470.7" fill="#747474"/>
<!-- gen_e -->
<clipPath id="cpE0L"><rect x="536.8" y="357" width="469.2" height="116.2"/></clipPath>
<rect x="536.8" y="357" width="469.2" height="116.2" fill="#040605"/>
<g clip-path="url(#cpE0L)">
<filter id="fE0L_3" filterUnits="userSpaceOnUse" x="516.8" y="337" width="509.2" height="156.2"><feGaussianBlur stdDeviation="3"/></filter>
<g filter="url(#fE0L_3)"><ellipse cx="549.5" cy="461.3" rx="6.0" ry="4.0" fill="#124e22" opacity="0.70"/><ellipse cx="771.0" cy="449.0" rx="24.0" ry="11.0" fill="#12582a" opacity="0.95"/><ellipse cx="768.0" cy="422.0" rx="5.0" ry="12.0" fill="#124e22" opacity="0.95"/><ellipse cx="877.1" cy="451.0" rx="14.0" ry="5.5" fill="#0e3c1a" opacity="0.95"/><ellipse cx="904.8" cy="448.2" rx="11.0" ry="5.5" fill="#114a20" opacity="0.95"/><ellipse cx="972.0" cy="443.5" rx="23.0" ry="10.0" fill="#115024" opacity="0.85"/></g>
<filter id="fE0L_2_5" filterUnits="userSpaceOnUse" x="516.8" y="337" width="509.2" height="156.2"><feGaussianBlur stdDeviation="2.5"/></filter>
<g filter="url(#fE0L_2_5)"><ellipse cx="773.8" cy="388.2" rx="5.5" ry="5.5" fill="#114a20" opacity="0.95"/></g>
<filter id="fE0L_2_4" filterUnits="userSpaceOnUse" x="516.8" y="337" width="509.2" height="156.2"><feGaussianBlur stdDeviation="2.4"/></filter>
<g filter="url(#fE0L_2_4)"><ellipse cx="760.0" cy="443.0" rx="15.5" ry="10.5" fill="#ff9a1a"/></g>
<filter id="fE0L_2_2" filterUnits="userSpaceOnUse" x="516.8" y="337" width="509.2" height="156.2"><feGaussianBlur stdDeviation="2.2"/></filter>
<g filter="url(#fE0L_2_2)"><ellipse cx="762.0" cy="444.5" rx="10.0" ry="7.0" fill="#ffc01c"/></g>
<filter id="fE0L_2_0" filterUnits="userSpaceOnUse" x="516.8" y="337" width="509.2" height="156.2"><feGaussianBlur stdDeviation="2.0"/></filter>
<g filter="url(#fE0L_2_0)"><ellipse cx="760.0" cy="442.0" rx="19.0" ry="13.5" fill="#ff4412"/><ellipse cx="752.0" cy="434.5" rx="8.0" ry="5.0" fill="#ff3414"/><ellipse cx="778.6" cy="451.0" rx="7.0" ry="6.8" fill="#1fae3c"/><ellipse cx="769.5" cy="447.5" rx="7.0" ry="6.0" fill="#ffe61c"/><ellipse cx="966.0" cy="437.5" rx="18.0" ry="10.5" fill="#ff5214"/><ellipse cx="967.0" cy="436.5" rx="11.5" ry="6.5" fill="#ffae1c"/></g>
<filter id="fE0L_1_2" filterUnits="userSpaceOnUse" x="516.8" y="337" width="509.2" height="156.2"><feGaussianBlur stdDeviation="1.2"/></filter>
<g filter="url(#fE0L_1_2)"><ellipse cx="661.4" cy="451.4" rx="10.0" ry="6.4" fill="#f82020" transform="rotate(-33 661.4 451.4)"/><ellipse cx="657.5" cy="454.0" rx="5.0" ry="4.5" fill="#f82020"/><ellipse cx="767.3" cy="413.7" rx="4.6" ry="2.3" fill="#f04418"/><ellipse cx="804.2" cy="452.8" rx="6.0" ry="3.6" fill="#f82020" opacity="0.95" transform="rotate(-20 804.2 452.8)"/></g>
<filter id="fE0L_1_0" filterUnits="userSpaceOnUse" x="516.8" y="337" width="509.2" height="156.2"><feGaussianBlur stdDeviation="1.0"/></filter>
<g filter="url(#fE0L_1_0)"><ellipse cx="781.1" cy="385.5" rx="2.2" ry="5.6" fill="#d81c20" transform="rotate(-15 781.1 385.5)"/></g>
<filter id="fE0L_0_9" filterUnits="userSpaceOnUse" x="516.8" y="337" width="509.2" height="156.2"><feGaussianBlur stdDeviation="0.9"/></filter>
<g filter="url(#fE0L_0_9)"><ellipse cx="546.0" cy="382.4" rx="1.6" ry="1.6" fill="#e01c1c" opacity="0.70"/><ellipse cx="550.0" cy="397.7" rx="2.0" ry="2.0" fill="#e01c1c" opacity="0.62"/><ellipse cx="624.4" cy="385.6" rx="1.6" ry="1.6" fill="#e01c1c" opacity="0.40"/><ellipse cx="675.5" cy="381.6" rx="1.6" ry="1.6" fill="#e01c1c" opacity="0.40"/><ellipse cx="718.6" cy="370.3" rx="1.2" ry="1.2" fill="#e01c1c" opacity="0.26"/><ellipse cx="609.1" cy="421.0" rx="2.0" ry="2.0" fill="#e01c1c" opacity="0.62"/><ellipse cx="597.0" cy="409.4" rx="1.1" ry="1.1" fill="#e01c1c" opacity="0.26"/><ellipse cx="702.2" cy="413.3" rx="1.2" ry="1.2" fill="#e01c1c" opacity="0.26"/><ellipse cx="679.5" cy="433.1" rx="1.6" ry="1.6" fill="#e01c1c" opacity="0.35"/><ellipse cx="742.0" cy="425.1" rx="1.6" ry="1.6" fill="#e01c1c" opacity="0.35"/><ellipse cx="609.1" cy="444.9" rx="2.1" ry="2.1" fill="#e01c1c" opacity="0.44"/><ellipse cx="634.9" cy="450.0" rx="3.0" ry="3.0" fill="#e01c1c" opacity="0.44"/><ellipse cx="627.6" cy="455.7" rx="4.0" ry="2.5" fill="#e01c1c" opacity="0.40"/><ellipse cx="542.2" cy="460.5" rx="2.0" ry="2.0" fill="#e01c1c" opacity="0.66"/><ellipse cx="589.4" cy="464.5" rx="1.6" ry="1.6" fill="#e01c1c" opacity="0.35"/><ellipse cx="604.6" cy="460.5" rx="1.1" ry="1.1" fill="#e01c1c" opacity="0.35"/><ellipse cx="623.5" cy="464.5" rx="1.1" ry="1.1" fill="#e01c1c" opacity="0.26"/><ellipse cx="699.3" cy="451.6" rx="3.0" ry="3.0" fill="#e01c1c" opacity="0.66"/><ellipse cx="706.6" cy="456.8" rx="3.2" ry="3.2" fill="#e01c1c" opacity="0.88"/><ellipse cx="696.6" cy="460.5" rx="3.0" ry="1.6" fill="#e01c1c" opacity="0.40"/><ellipse cx="718.6" cy="464.5" rx="2.1" ry="2.1" fill="#e01c1c" opacity="0.62"/><ellipse cx="753.7" cy="460.5" rx="1.6" ry="1.6" fill="#e01c1c" opacity="0.53"/><ellipse cx="738.8" cy="444.4" rx="2.8" ry="3.4" fill="#e01c1c" opacity="0.62"/><ellipse cx="741.5" cy="425.1" rx="1.5" ry="1.5" fill="#e01c1c" opacity="0.44"/><ellipse cx="739.6" cy="444.5" rx="3.0" ry="4.0" fill="#e01c1c" opacity="0.53"/><path d="M816.0 447.0 L821.0 446.5 L822.5 451.0 L819.0 455.0 L815.0 454.0" fill="none" stroke="#d81c1c" stroke-width="1.8" stroke-linecap="round" stroke-linejoin="round" opacity="0.90"/><ellipse cx="793.1" cy="446.9" rx="2.0" ry="4.0" fill="#e01c1c" opacity="0.79"/><ellipse cx="832.8" cy="452.8" rx="2.4" ry="5.0" fill="#e01c1c" opacity="0.79"/><ellipse cx="842.1" cy="449.1" rx="7.0" ry="2.4" fill="#e01c1c" opacity="0.84" transform="rotate(-8 842.1 449.1)"/><ellipse cx="867.0" cy="449.1" rx="2.4" ry="3.0" fill="#e01c1c" opacity="0.75"/><ellipse cx="894.7" cy="445.1" rx="2.0" ry="3.0" fill="#e01c1c" opacity="0.70"/><ellipse cx="824.5" cy="460.2" rx="1.5" ry="1.5" fill="#e01c1c" opacity="0.62"/><ellipse cx="816.0" cy="464.8" rx="1.2" ry="1.2" fill="#e01c1c" opacity="0.35"/><ellipse cx="753.5" cy="460.8" rx="2.0" ry="2.0" fill="#e01c1c" opacity="0.62"/><ellipse cx="914.0" cy="366.4" rx="1.0" ry="1.0" fill="#e01c1c" opacity="0.26"/><ellipse cx="926.0" cy="440.8" rx="2.0" ry="2.0" fill="#e01c1c" opacity="0.44"/><ellipse cx="938.0" cy="460.6" rx="2.0" ry="2.0" fill="#e01c1c" opacity="0.53"/><ellipse cx="969.4" cy="464.4" rx="1.5" ry="1.5" fill="#e01c1c" opacity="0.44"/><ellipse cx="961.7" cy="456.5" rx="1.5" ry="1.5" fill="#e01c1c" opacity="0.53"/><ellipse cx="872.0" cy="455.0" rx="1.5" ry="1.5" fill="#e01c1c" opacity="0.44"/><ellipse cx="905.0" cy="449.0" rx="1.5" ry="1.5" fill="#e01c1c" opacity="0.44"/><ellipse cx="912.0" cy="451.0" rx="1.3" ry="1.3" fill="#e01c1c" opacity="0.44"/><ellipse cx="964.8" cy="448.2" rx="3.0" ry="3.0" fill="#f42418" opacity="0.88"/><ellipse cx="982.3" cy="447.3" rx="5.6" ry="4.6" fill="#f42418" opacity="0.88" transform="rotate(-30 982.3 447.3)"/><ellipse cx="950.0" cy="441.7" rx="4.6" ry="4.6" fill="#f42418" opacity="0.88"/><ellipse cx="941.7" cy="450.0" rx="2.4" ry="3.8" fill="#f42418" opacity="0.79"/><ellipse cx="997.1" cy="450.0" rx="2.4" ry="3.8" fill="#f42418" opacity="0.79"/><ellipse cx="992.5" cy="425.7" rx="2.4" ry="2.4" fill="#f42418" opacity="0.79"/><ellipse cx="1003.5" cy="425.1" rx="2.4" ry="2.4" fill="#f42418" opacity="0.79"/><ellipse cx="999.0" cy="455.0" rx="1.8" ry="1.8" fill="#f42418" opacity="0.53"/></g>
<path d="M817.1 386.9 H798.5" stroke="#fff" stroke-width="2.1" fill="none"/><path d="M795.0 386.9 L801.8 384.0 L800.0 386.9 L801.8 389.8Z" fill="#fff"/>
<path d="M805.5 415.0 H786.9" stroke="#fff" stroke-width="2.1" fill="none"/><path d="M783.4 415.0 L790.2 412.1 L788.4 415.0 L790.2 417.9Z" fill="#fff"/>
<path d="M658.7 464.8 L662.6 473.2 L658.7 470.7 L654.8 473.2Z" fill="#fff"/>
<path d="M762.2 461.8 L766.1 470.2 L762.2 467.7 L758.3 470.2Z" fill="#fff"/>
<text x="539.0" y="380.3" font-family="'Liberation Sans',sans-serif" font-size="23.5" fill="#fff" textLength="53.5" lengthAdjust="spacingAndGlyphs">0 sec</text>
</g>
<clipPath id="cpE0R"><rect x="1008" y="357" width="469.0" height="116.2"/></clipPath>
<rect x="1008" y="357" width="469.0" height="116.2" fill="#040605"/>
<g clip-path="url(#cpE0R)">
<filter id="fE0R_3" filterUnits="userSpaceOnUse" x="988" y="337" width="509.0" height="156.2"><feGaussianBlur stdDeviation="3"/></filter>
<g filter="url(#fE0R_3)"><ellipse cx="1172.0" cy="446.0" rx="4.0" ry="4.0" fill="#0c3216" opacity="0.70"/><ellipse cx="1237.0" cy="382.5" rx="6.5" ry="11.5" fill="#114a20" opacity="0.95"/><ellipse cx="1233.7" cy="401.5" rx="4.0" ry="7.0" fill="#0e3c1a" opacity="0.90"/><ellipse cx="1363.7" cy="449.5" rx="17.0" ry="5.5" fill="#125020" opacity="0.95"/><ellipse cx="1443.1" cy="436.5" rx="26.0" ry="11.0" fill="#115024" opacity="0.95"/></g>
<filter id="fE0R_2_5" filterUnits="userSpaceOnUse" x="988" y="337" width="509.0" height="156.2"><feGaussianBlur stdDeviation="2.5"/></filter>
<g filter="url(#fE0R_2_5)"><ellipse cx="1215.0" cy="428.0" rx="9.0" ry="13.0" fill="#128a30" opacity="0.95"/></g>
<filter id="fE0R_2_2" filterUnits="userSpaceOnUse" x="988" y="337" width="509.0" height="156.2"><feGaussianBlur stdDeviation="2.2"/></filter>
<g filter="url(#fE0R_2_2)"><ellipse cx="1227.0" cy="430.0" rx="14.5" ry="12.5" fill="#ff8a18"/></g>
<filter id="fE0R_2_0" filterUnits="userSpaceOnUse" x="988" y="337" width="509.0" height="156.2"><feGaussianBlur stdDeviation="2.0"/></filter>
<g filter="url(#fE0R_2_0)"><ellipse cx="1228.1" cy="431.5" rx="17.0" ry="14.6" fill="#fb3c14"/><ellipse cx="1225.3" cy="427.8" rx="12.0" ry="11.0" fill="#ffe61c"/><ellipse cx="1435.7" cy="433.4" rx="8.0" ry="5.0" fill="#128a30"/></g>
<filter id="fE0R_1_8" filterUnits="userSpaceOnUse" x="988" y="337" width="509.0" height="156.2"><feGaussianBlur stdDeviation="1.8"/></filter>
<g filter="url(#fE0R_1_8)"><ellipse cx="1452.3" cy="436.2" rx="14.0" ry="6.6" fill="#ff5214" transform="rotate(22 1452.3 436.2)"/><ellipse cx="1456.0" cy="438.0" rx="6.0" ry="3.6" fill="#ff7a18" transform="rotate(22 1456.0 438.0)"/></g>
<filter id="fE0R_1_5" filterUnits="userSpaceOnUse" x="988" y="337" width="509.0" height="156.2"><feGaussianBlur stdDeviation="1.5"/></filter>
<g filter="url(#fE0R_1_5)"><ellipse cx="1183.0" cy="444.1" rx="9.2" ry="7.4" fill="#fa2a1e"/></g>
<filter id="fE0R_1_4" filterUnits="userSpaceOnUse" x="988" y="337" width="509.0" height="156.2"><feGaussianBlur stdDeviation="1.4"/></filter>
<g filter="url(#fE0R_1_4)"><ellipse cx="1328.7" cy="446.0" rx="6.4" ry="6.4" fill="#f42222"/></g>
<filter id="fE0R_1_3" filterUnits="userSpaceOnUse" x="988" y="337" width="509.0" height="156.2"><feGaussianBlur stdDeviation="1.3"/></filter>
<g filter="url(#fE0R_1_3)"><ellipse cx="1328.7" cy="451.9" rx="9.0" ry="2.2" fill="#e02020" opacity="0.90"/><ellipse cx="1426.5" cy="437.1" rx="6.0" ry="2.4" fill="#f8601a" transform="rotate(8 1426.5 437.1)"/></g>
<filter id="fE0R_1_2" filterUnits="userSpaceOnUse" x="988" y="337" width="509.0" height="156.2"><feGaussianBlur stdDeviation="1.2"/></filter>
<g filter="url(#fE0R_1_2)"><ellipse cx="1372.0" cy="452.5" rx="4.0" ry="2.4" fill="#f8441a"/></g>
<filter id="fE0R_1_0" filterUnits="userSpaceOnUse" x="988" y="337" width="509.0" height="156.2"><feGaussianBlur stdDeviation="1.0"/></filter>
<g filter="url(#fE0R_1_0)"><ellipse cx="1218.5" cy="438.5" rx="1.6" ry="1.8" fill="#0f5a20" opacity="0.80"/></g>
<filter id="fE0R_0_9" filterUnits="userSpaceOnUse" x="988" y="337" width="509.0" height="156.2"><feGaussianBlur stdDeviation="0.9"/></filter>
<g filter="url(#fE0R_0_9)"><ellipse cx="1129.0" cy="441.2" rx="3.5" ry="2.5" fill="#e01c1c" opacity="0.66"/><ellipse cx="1123.4" cy="448.1" rx="3.5" ry="2.5" fill="#e01c1c" opacity="0.40"/><ellipse cx="1086.8" cy="454.9" rx="2.5" ry="3.5" fill="#e01c1c" opacity="0.44"/><ellipse cx="1046.6" cy="464.5" rx="3.0" ry="2.0" fill="#e01c1c" opacity="0.35"/><ellipse cx="1079.0" cy="448.4" rx="1.3" ry="1.3" fill="#e01c1c" opacity="0.26"/><ellipse cx="1051.7" cy="432.8" rx="1.2" ry="1.2" fill="#e01c1c" opacity="0.22"/><ellipse cx="1188.6" cy="433.1" rx="2.0" ry="2.0" fill="#e01c1c" opacity="0.35"/><ellipse cx="1196.7" cy="437.2" rx="1.5" ry="1.5" fill="#e01c1c" opacity="0.31"/><ellipse cx="1180.6" cy="456.8" rx="2.0" ry="2.0" fill="#e01c1c" opacity="0.62"/><ellipse cx="1220.0" cy="464.5" rx="1.5" ry="1.5" fill="#e01c1c" opacity="0.31"/><ellipse cx="1146.0" cy="449.5" rx="1.0" ry="1.0" fill="#e01c1c" opacity="0.26"/><ellipse cx="1251.1" cy="409.4" rx="2.5" ry="2.5" fill="#e01c1c" opacity="0.66"/><ellipse cx="1263.1" cy="421.1" rx="2.5" ry="2.5" fill="#e01c1c" opacity="0.66"/><ellipse cx="1275.1" cy="405.4" rx="1.5" ry="1.5" fill="#e01c1c" opacity="0.31"/><ellipse cx="1313.9" cy="417.4" rx="1.2" ry="1.2" fill="#e01c1c" opacity="0.26"/><ellipse cx="1341.6" cy="432.5" rx="1.5" ry="1.5" fill="#e01c1c" opacity="0.35"/><ellipse cx="1294.5" cy="444.9" rx="3.0" ry="3.5" fill="#e01c1c" opacity="0.84"/><ellipse cx="1305.6" cy="444.9" rx="1.5" ry="1.5" fill="#e01c1c" opacity="0.35"/><ellipse cx="1346.2" cy="445.4" rx="1.3" ry="1.3" fill="#e01c1c" opacity="0.31"/><ellipse cx="1385.0" cy="451.5" rx="1.5" ry="1.5" fill="#e01c1c" opacity="0.44"/><ellipse cx="1404.0" cy="378.6" rx="2.0" ry="2.0" fill="#e01c1c" opacity="0.35"/><ellipse cx="1427.8" cy="389.7" rx="2.5" ry="2.5" fill="#e01c1c" opacity="0.62"/><ellipse cx="1431.7" cy="401.7" rx="1.5" ry="1.5" fill="#e01c1c" opacity="0.35"/><ellipse cx="1470.8" cy="393.8" rx="2.0" ry="2.0" fill="#e01c1c" opacity="0.35"/><ellipse cx="1470.8" cy="409.4" rx="1.3" ry="1.3" fill="#e01c1c" opacity="0.26"/><ellipse cx="1219.8" cy="464.3" rx="1.5" ry="1.5" fill="#e01c1c" opacity="0.35"/><ellipse cx="1380.7" cy="471.6" rx="1.3" ry="1.3" fill="#e01c1c" opacity="0.26"/><ellipse cx="1290.0" cy="448.0" rx="1.5" ry="1.5" fill="#e01c1c" opacity="0.44"/><ellipse cx="1467.1" cy="446.7" rx="4.0" ry="4.0" fill="#f42418" opacity="0.88"/><ellipse cx="1421.9" cy="444.9" rx="3.0" ry="2.0" fill="#f42418" opacity="0.75"/><ellipse cx="1435.3" cy="452.5" rx="2.0" ry="2.0" fill="#f42418" opacity="0.70"/><ellipse cx="1470.8" cy="456.5" rx="2.5" ry="2.5" fill="#f42418" opacity="0.70"/><ellipse cx="1458.8" cy="451.0" rx="1.5" ry="1.5" fill="#f42418" opacity="0.62"/><ellipse cx="1418.0" cy="432.0" rx="1.5" ry="1.5" fill="#f42418" opacity="0.53"/></g>
<path d="M1182.2 458.4 L1186.1 466.8 L1182.2 464.3 L1178.3 466.8Z" fill="#fff"/>
<path d="M1226.5 452.0 L1230.4 460.4 L1226.5 457.9 L1222.6 460.4Z" fill="#fff"/>
<text x="1009.2" y="380.3" font-family="'Liberation Sans',sans-serif" font-size="23.5" fill="#fff" textLength="66.5" lengthAdjust="spacingAndGlyphs">59 sec</text>
</g>
<clipPath id="cpE1L"><rect x="536.8" y="475.2" width="469.2" height="116.0"/></clipPath>
<rect x="536.8" y="475.2" width="469.2" height="116.0" fill="#040605"/>
<g clip-path="url(#cpE1L)">
<filter id="fE1L_3" filterUnits="userSpaceOnUse" x="516.8" y="455.2" width="509.2" height="156.0"><feGaussianBlur stdDeviation="3"/></filter>
<g filter="url(#fE1L_3)"><ellipse cx="543.0" cy="573.5" rx="6.5" ry="4.5" fill="#124e22" opacity="0.80"/><ellipse cx="746.0" cy="560.0" rx="14.0" ry="8.0" fill="#12582a" opacity="0.95"/><ellipse cx="768.2" cy="532.9" rx="5.5" ry="12.0" fill="#124e22" opacity="0.95"/><ellipse cx="771.0" cy="510.8" rx="7.0" ry="5.5" fill="#114a20" opacity="0.95"/><ellipse cx="770.0" cy="566.0" rx="10.0" ry="5.0" fill="#114a20" opacity="0.80"/><ellipse cx="872.5" cy="567.0" rx="12.0" ry="5.5" fill="#114a20" opacity="0.95"/><ellipse cx="909.4" cy="565.2" rx="10.0" ry="5.5" fill="#125020" opacity="0.95"/><ellipse cx="974.0" cy="560.6" rx="24.0" ry="9.5" fill="#124e22" opacity="0.85"/></g>
<filter id="fE1L_2_0" filterUnits="userSpaceOnUse" x="516.8" y="455.2" width="509.2" height="156.0"><feGaussianBlur stdDeviation="2.0"/></filter>
<g filter="url(#fE1L_2_0)"><ellipse cx="753.5" cy="558.7" rx="8.5" ry="8.0" fill="#148c30"/><ellipse cx="765.5" cy="562.4" rx="8.0" ry="10.0" fill="#ff6a16"/><ellipse cx="759.9" cy="557.8" rx="7.0" ry="6.0" fill="#ffe61c"/><ellipse cx="795.9" cy="570.5" rx="17.0" ry="8.0" fill="#fb3a14"/><ellipse cx="794.0" cy="570.5" rx="9.5" ry="5.5" fill="#ff961a"/><ellipse cx="965.7" cy="553.2" rx="15.0" ry="7.6" fill="#ff5a14"/><ellipse cx="970.0" cy="552.5" rx="8.0" ry="4.5" fill="#ff961a"/></g>
<filter id="fE1L_1_5" filterUnits="userSpaceOnUse" x="516.8" y="455.2" width="509.2" height="156.0"><feGaussianBlur stdDeviation="1.5"/></filter>
<g filter="url(#fE1L_1_5)"><ellipse cx="794.0" cy="579.0" rx="4.0" ry="4.0" fill="#f42418"/><ellipse cx="812.0" cy="568.0" rx="4.0" ry="4.0" fill="#f42418"/></g>
<filter id="fE1L_1_3" filterUnits="userSpaceOnUse" x="516.8" y="455.2" width="509.2" height="156.0"><feGaussianBlur stdDeviation="1.3"/></filter>
<g filter="url(#fE1L_1_3)"><ellipse cx="663.9" cy="569.3" rx="10.0" ry="5.6" fill="#f82020"/></g>
<filter id="fE1L_1_2" filterUnits="userSpaceOnUse" x="516.8" y="455.2" width="509.2" height="156.0"><feGaussianBlur stdDeviation="1.2"/></filter>
<g filter="url(#fE1L_1_2)"><ellipse cx="655.5" cy="573.5" rx="4.0" ry="3.8" fill="#f82020"/><ellipse cx="671.5" cy="566.5" rx="3.5" ry="3.5" fill="#f82020"/><ellipse cx="672.7" cy="577.5" rx="3.4" ry="3.4" fill="#c81c1c" opacity="0.85"/><ellipse cx="776.5" cy="565.2" rx="3.0" ry="3.0" fill="#f42418"/></g>
<filter id="fE1L_1_1" filterUnits="userSpaceOnUse" x="516.8" y="455.2" width="509.2" height="156.0"><feGaussianBlur stdDeviation="1.1"/></filter>
<g filter="url(#fE1L_1_1)"><ellipse cx="766.4" cy="545.8" rx="2.8" ry="3.8" fill="#f42418"/></g>
<filter id="fE1L_0_9" filterUnits="userSpaceOnUse" x="516.8" y="455.2" width="509.2" height="156.0"><feGaussianBlur stdDeviation="0.9"/></filter>
<g filter="url(#fE1L_0_9)"><ellipse cx="643.7" cy="573.8" rx="2.5" ry="2.5" fill="#e01c1c" opacity="0.70"/><ellipse cx="636.2" cy="577.5" rx="2.5" ry="2.5" fill="#e01c1c" opacity="0.70"/><ellipse cx="628.8" cy="577.8" rx="2.5" ry="2.5" fill="#e01c1c" opacity="0.48"/><ellipse cx="620.9" cy="569.5" rx="2.0" ry="3.0" fill="#e01c1c" opacity="0.40"/><ellipse cx="601.0" cy="570.3" rx="2.0" ry="2.0" fill="#e01c1c" opacity="0.53"/><ellipse cx="605.0" cy="562.5" rx="1.3" ry="1.3" fill="#e01c1c" opacity="0.31"/><ellipse cx="542.2" cy="565.4" rx="2.0" ry="2.0" fill="#e01c1c" opacity="0.40"/><ellipse cx="549.8" cy="563.5" rx="1.3" ry="1.3" fill="#e01c1c" opacity="0.31"/><ellipse cx="581.7" cy="581.5" rx="1.6" ry="1.6" fill="#e01c1c" opacity="0.35"/><ellipse cx="722.7" cy="574.0" rx="2.1" ry="2.1" fill="#e01c1c" opacity="0.53"/><ellipse cx="688.0" cy="572.7" rx="1.5" ry="2.4" fill="#e01c1c" opacity="0.31"/><ellipse cx="695.0" cy="577.5" rx="1.3" ry="1.3" fill="#e01c1c" opacity="0.26"/><ellipse cx="566.0" cy="547.0" rx="1.0" ry="1.0" fill="#e01c1c" opacity="0.22"/><ellipse cx="557.5" cy="577.0" rx="1.0" ry="1.0" fill="#e01c1c" opacity="0.22"/><ellipse cx="886.3" cy="562.4" rx="2.0" ry="2.0" fill="#e01c1c" opacity="0.70"/><ellipse cx="882.7" cy="569.8" rx="2.0" ry="2.0" fill="#e01c1c" opacity="0.70"/><ellipse cx="868.0" cy="566.0" rx="1.2" ry="1.2" fill="#e01c1c" opacity="0.35"/><ellipse cx="949.1" cy="562.4" rx="4.0" ry="3.0" fill="#f42418" opacity="0.88"/><ellipse cx="980.5" cy="561.9" rx="3.0" ry="3.0" fill="#f42418" opacity="0.88"/><ellipse cx="936.2" cy="567.0" rx="2.6" ry="4.0" fill="#f42418" opacity="0.79"/><ellipse cx="953.7" cy="546.8" rx="2.0" ry="2.0" fill="#f42418" opacity="0.70"/><ellipse cx="996.2" cy="543.1" rx="2.5" ry="2.5" fill="#f42418" opacity="0.70"/><ellipse cx="934.0" cy="558.4" rx="1.5" ry="1.5" fill="#f42418" opacity="0.53"/><ellipse cx="969.4" cy="573.5" rx="1.5" ry="1.5" fill="#f42418" opacity="0.53"/><ellipse cx="1004.1" cy="571.7" rx="2.0" ry="4.0" fill="#f42418" opacity="0.70"/><ellipse cx="973.1" cy="503.7" rx="1.0" ry="1.0" fill="#f42418" opacity="0.26"/><ellipse cx="958.0" cy="571.0" rx="1.3" ry="1.3" fill="#f42418" opacity="0.44"/><ellipse cx="937.0" cy="578.0" rx="1.2" ry="1.2" fill="#f42418" opacity="0.35"/></g>
<path d="M801.8 546.2 H782.8" stroke="#fff" stroke-width="2.1" fill="none"/><path d="M779.3 546.2 L786.1 543.3 L784.3 546.2 L786.1 549.1Z" fill="#fff"/>
<path d="M664.2 581.4 L668.1 589.8 L664.2 587.3 L660.3 589.8Z" fill="#fff"/>
<path d="M767.2 578.2 L771.1 586.6 L767.2 584.1 L763.3 586.6Z" fill="#fff"/>
<path d="M793.7 581.3 L797.6 589.7 L793.7 587.2 L789.8 589.7Z" fill="#fff"/>
<text x="538.6" y="497.8" font-family="'Liberation Sans',sans-serif" font-size="23.5" fill="#fff" textLength="53.8" lengthAdjust="spacingAndGlyphs">4 sec</text>
</g>
<clipPath id="cpE1R"><rect x="1008" y="475.2" width="469.0" height="116.0"/></clipPath>
<rect x="1008" y="475.2" width="469.0" height="116.0" fill="#040605"/>
<g clip-path="url(#cpE1R)">
<filter id="fE1R_3" filterUnits="userSpaceOnUse" x="988" y="455.2" width="509.0" height="156.0"><feGaussianBlur stdDeviation="3"/></filter>
<g filter="url(#fE1R_3)"><ellipse cx="1237.0" cy="505.0" rx="7.0" ry="15.0" fill="#114a20" opacity="0.95"/><ellipse cx="1234.0" cy="525.0" rx="5.0" ry="8.0" fill="#12582a" opacity="0.90"/><ellipse cx="1316.0" cy="556.0" rx="7.0" ry="3.0" fill="#0c2c14" opacity="0.70"/><ellipse cx="1350.0" cy="562.5" rx="5.0" ry="2.5" fill="#0c2c14" opacity="0.70"/><ellipse cx="1386.0" cy="562.5" rx="6.0" ry="3.0" fill="#0c2c14" opacity="0.70"/><ellipse cx="1452.3" cy="550.0" rx="13.0" ry="10.0" fill="#12582a" opacity="0.95"/><ellipse cx="1436.0" cy="548.0" rx="8.0" ry="4.0" fill="#12582a" opacity="0.80"/></g>
<filter id="fE1R_2_5" filterUnits="userSpaceOnUse" x="988" y="455.2" width="509.0" height="156.0"><feGaussianBlur stdDeviation="2.5"/></filter>
<g filter="url(#fE1R_2_5)"><ellipse cx="1231.0" cy="537.5" rx="9.0" ry="8.0" fill="#128a30" opacity="0.95"/></g>
<filter id="fE1R_2_2" filterUnits="userSpaceOnUse" x="988" y="455.2" width="509.0" height="156.0"><feGaussianBlur stdDeviation="2.2"/></filter>
<g filter="url(#fE1R_2_2)"><ellipse cx="1220.0" cy="552.0" rx="16.0" ry="9.5" fill="#ff8a18" transform="rotate(-18 1220.0 552.0)"/></g>
<filter id="fE1R_2_0" filterUnits="userSpaceOnUse" x="988" y="455.2" width="509.0" height="156.0"><feGaussianBlur stdDeviation="2.0"/></filter>
<g filter="url(#fE1R_2_0)"><ellipse cx="1216.5" cy="555.0" rx="24.0" ry="12.0" fill="#fb3a14" transform="rotate(-18 1216.5 555.0)"/><ellipse cx="1223.0" cy="549.0" rx="11.5" ry="7.6" fill="#ffe61c" transform="rotate(-18 1223.0 549.0)"/><ellipse cx="1436.6" cy="556.0" rx="17.5" ry="9.6" fill="#fb4014"/><ellipse cx="1438.5" cy="553.0" rx="10.5" ry="6.0" fill="#ffa01a"/></g>
<filter id="fE1R_1_5" filterUnits="userSpaceOnUse" x="988" y="455.2" width="509.0" height="156.0"><feGaussianBlur stdDeviation="1.5"/></filter>
<g filter="url(#fE1R_1_5)"><ellipse cx="1195.1" cy="557.4" rx="6.0" ry="4.0" fill="#f42418"/><ellipse cx="1203.0" cy="548.0" rx="4.0" ry="4.0" fill="#f8341a"/></g>
<filter id="fE1R_1_4" filterUnits="userSpaceOnUse" x="988" y="455.2" width="509.0" height="156.0"><feGaussianBlur stdDeviation="1.4"/></filter>
<g filter="url(#fE1R_1_4)"><ellipse cx="1421.9" cy="561.9" rx="5.0" ry="3.0" fill="#f42418"/></g>
<filter id="fE1R_1_3" filterUnits="userSpaceOnUse" x="988" y="455.2" width="509.0" height="156.0"><feGaussianBlur stdDeviation="1.3"/></filter>
<g filter="url(#fE1R_1_3)"><ellipse cx="1120.2" cy="568.6" rx="3.6" ry="6.0" fill="#f42222" transform="rotate(-20 1120.2 568.6)"/><ellipse cx="1337.5" cy="566.1" rx="3.6" ry="5.6" fill="#f42222" opacity="0.95" transform="rotate(10 1337.5 566.1)"/></g>
<filter id="fE1R_1_2" filterUnits="userSpaceOnUse" x="988" y="455.2" width="509.0" height="156.0"><feGaussianBlur stdDeviation="1.2"/></filter>
<g filter="url(#fE1R_1_2)"><ellipse cx="1185.4" cy="566.2" rx="3.4" ry="3.2" fill="#f42418"/><ellipse cx="1459.7" cy="563.4" rx="2.4" ry="4.6" fill="#f42418" opacity="0.90" transform="rotate(15 1459.7 563.4)"/></g>
<filter id="fE1R_1_1" filterUnits="userSpaceOnUse" x="988" y="455.2" width="509.0" height="156.0"><feGaussianBlur stdDeviation="1.1"/></filter>
<g filter="url(#fE1R_1_1)"><ellipse cx="1241.0" cy="505.8" rx="2.0" ry="4.0" fill="#c84418" opacity="0.85" transform="rotate(-15 1241.0 505.8)"/></g>
<filter id="fE1R_0_9" filterUnits="userSpaceOnUse" x="988" y="455.2" width="509.0" height="156.0"><feGaussianBlur stdDeviation="0.9"/></filter>
<g filter="url(#fE1R_0_9)"><ellipse cx="1122.3" cy="558.7" rx="2.5" ry="2.5" fill="#e01c1c" opacity="0.66"/><ellipse cx="1086.8" cy="566.2" rx="2.5" ry="2.5" fill="#e01c1c" opacity="0.44"/><ellipse cx="1102.5" cy="530.8" rx="2.5" ry="2.5" fill="#e01c1c" opacity="0.44"/><ellipse cx="1157.2" cy="511.5" rx="2.5" ry="2.5" fill="#e01c1c" opacity="0.40"/><ellipse cx="1016.3" cy="514.7" rx="2.0" ry="2.0" fill="#e01c1c" opacity="0.35"/><ellipse cx="1035.6" cy="483.6" rx="2.5" ry="2.5" fill="#e01c1c" opacity="0.53"/><ellipse cx="1137.4" cy="495.8" rx="1.3" ry="1.3" fill="#e01c1c" opacity="0.26"/><ellipse cx="1102.5" cy="487.8" rx="1.0" ry="1.0" fill="#e01c1c" opacity="0.22"/><ellipse cx="1075.0" cy="562.2" rx="1.3" ry="1.3" fill="#e01c1c" opacity="0.26"/><ellipse cx="1110.5" cy="578.0" rx="1.3" ry="1.3" fill="#e01c1c" opacity="0.26"/><ellipse cx="1188.6" cy="542.9" rx="1.5" ry="1.5" fill="#e01c1c" opacity="0.31"/><ellipse cx="1196.7" cy="568.6" rx="1.8" ry="1.8" fill="#e01c1c" opacity="0.35"/><ellipse cx="1196.7" cy="578.0" rx="2.0" ry="2.0" fill="#e01c1c" opacity="0.44"/><ellipse cx="1182.2" cy="574.3" rx="1.6" ry="1.2" fill="#e01c1c" opacity="0.31"/><ellipse cx="1223.7" cy="568.6" rx="1.5" ry="1.5" fill="#e01c1c" opacity="0.26"/><ellipse cx="1247.8" cy="573.9" rx="1.5" ry="1.5" fill="#e01c1c" opacity="0.35"/><ellipse cx="1266.8" cy="562.4" rx="1.2" ry="1.2" fill="#e01c1c" opacity="0.26"/><ellipse cx="1396.6" cy="558.4" rx="2.0" ry="2.0" fill="#e01c1c" opacity="0.44"/><ellipse cx="1408.0" cy="574.1" rx="1.5" ry="1.5" fill="#e01c1c" opacity="0.40"/><ellipse cx="1431.7" cy="519.6" rx="1.3" ry="1.3" fill="#e01c1c" opacity="0.26"/><ellipse cx="1431.7" cy="581.8" rx="2.5" ry="2.5" fill="#e01c1c" opacity="0.70"/><ellipse cx="1423.7" cy="569.8" rx="2.5" ry="2.5" fill="#e01c1c" opacity="0.70"/><ellipse cx="1474.8" cy="543.1" rx="2.0" ry="2.0" fill="#e01c1c" opacity="0.62"/><ellipse cx="1475.4" cy="531.0" rx="1.3" ry="1.3" fill="#e01c1c" opacity="0.31"/><ellipse cx="1385.0" cy="488.2" rx="1.0" ry="1.0" fill="#e01c1c" opacity="0.22"/><ellipse cx="1428.0" cy="495.6" rx="1.0" ry="1.0" fill="#e01c1c" opacity="0.22"/><ellipse cx="1443.0" cy="569.0" rx="1.2" ry="1.2" fill="#e01c1c" opacity="0.35"/></g>
<path d="M1275.1 505.8 H1256.5" stroke="#fff" stroke-width="2.1" fill="none"/><path d="M1253.0 505.8 L1259.8 502.9 L1258.0 505.8 L1259.8 508.7Z" fill="#fff"/>
<path d="M1218.2 571.6 L1222.1 580.0 L1218.2 577.5 L1214.3 580.0Z" fill="#fff"/>
<text x="1009.2" y="497.8" font-family="'Liberation Sans',sans-serif" font-size="23.5" fill="#fff" textLength="66.5" lengthAdjust="spacingAndGlyphs">80 sec</text>
</g>
<clipPath id="cpE2L"><rect x="536.8" y="593.2" width="469.2" height="116.1"/></clipPath>
<rect x="536.8" y="593.2" width="469.2" height="116.1" fill="#040605"/>
<g clip-path="url(#cpE2L)">
<filter id="fE2L_3" filterUnits="userSpaceOnUse" x="516.8" y="573.2" width="509.2" height="156.1"><feGaussianBlur stdDeviation="3"/></filter>
<g filter="url(#fE2L_3)"><ellipse cx="771.0" cy="616.6" rx="4.5" ry="4.0" fill="#124e22" opacity="0.90"/><ellipse cx="540.0" cy="612.0" rx="5.0" ry="4.0" fill="#0c3216" opacity="0.60"/><ellipse cx="640.0" cy="679.0" rx="4.0" ry="3.0" fill="#0c3216" opacity="0.60"/><ellipse cx="772.8" cy="616.8" rx="6.0" ry="4.0" fill="#114a20" opacity="0.90"/><ellipse cx="875.3" cy="682.3" rx="10.0" ry="5.5" fill="#114a20" opacity="0.95"/><ellipse cx="912.2" cy="681.4" rx="11.0" ry="5.5" fill="#125020" opacity="0.95"/><ellipse cx="953.5" cy="674.9" rx="12.0" ry="8.0" fill="#12582a" opacity="0.85"/><ellipse cx="993.4" cy="682.3" rx="8.0" ry="5.0" fill="#114a20" opacity="0.80"/></g>
<filter id="fE2L_2_5" filterUnits="userSpaceOnUse" x="516.8" y="573.2" width="509.2" height="156.1"><feGaussianBlur stdDeviation="2.5"/></filter>
<g filter="url(#fE2L_2_5)"><ellipse cx="749.0" cy="664.5" rx="13.0" ry="9.0" fill="#10742a" opacity="0.95"/></g>
<filter id="fE2L_2_2" filterUnits="userSpaceOnUse" x="516.8" y="573.2" width="509.2" height="156.1"><feGaussianBlur stdDeviation="2.2"/></filter>
<g filter="url(#fE2L_2_2)"><ellipse cx="799.0" cy="679.0" rx="7.5" ry="6.5" fill="#ff7a18"/><ellipse cx="972.0" cy="670.5" rx="8.5" ry="6.0" fill="#ff961a"/></g>
<filter id="fE2L_2_0" filterUnits="userSpaceOnUse" x="516.8" y="573.2" width="509.2" height="156.1"><feGaussianBlur stdDeviation="2.0"/></filter>
<g filter="url(#fE2L_2_0)"><ellipse cx="760.8" cy="671.0" rx="17.0" ry="9.5" fill="#fb3c14"/><ellipse cx="762.0" cy="668.0" rx="12.0" ry="7.0" fill="#ff8a18"/><ellipse cx="757.6" cy="666.5" rx="10.5" ry="7.0" fill="#ffe61c"/><ellipse cx="799.6" cy="679.5" rx="12.6" ry="10.6" fill="#fb3a14"/><ellipse cx="971.2" cy="672.1" rx="15.0" ry="10.5" fill="#ff5a14"/></g>
<filter id="fE2L_1_4" filterUnits="userSpaceOnUse" x="516.8" y="573.2" width="509.2" height="156.1"><feGaussianBlur stdDeviation="1.4"/></filter>
<g filter="url(#fE2L_1_4)"><ellipse cx="747.6" cy="677.0" rx="5.0" ry="3.8" fill="#f42418"/></g>
<filter id="fE2L_1_3" filterUnits="userSpaceOnUse" x="516.8" y="573.2" width="509.2" height="156.1"><feGaussianBlur stdDeviation="1.3"/></filter>
<g filter="url(#fE2L_1_3)"><ellipse cx="668.7" cy="680.0" rx="9.4" ry="8.4" fill="#f82020"/></g>
<filter id="fE2L_1_2" filterUnits="userSpaceOnUse" x="516.8" y="573.2" width="509.2" height="156.1"><feGaussianBlur stdDeviation="1.2"/></filter>
<g filter="url(#fE2L_1_2)"><ellipse cx="670.0" cy="673.0" rx="5.0" ry="3.5" fill="#f82020"/></g>
<filter id="fE2L_1_1" filterUnits="userSpaceOnUse" x="516.8" y="573.2" width="509.2" height="156.1"><feGaussianBlur stdDeviation="1.1"/></filter>
<g filter="url(#fE2L_1_1)"><ellipse cx="650.2" cy="681.8" rx="4.6" ry="2.6" fill="#c81c1c" opacity="0.70" transform="rotate(-30 650.2 681.8)"/><ellipse cx="685.6" cy="681.8" rx="3.6" ry="3.8" fill="#c81c1c" opacity="0.70" transform="rotate(30 685.6 681.8)"/></g>
<filter id="fE2L_1_0" filterUnits="userSpaceOnUse" x="516.8" y="573.2" width="509.2" height="156.1"><feGaussianBlur stdDeviation="1.0"/></filter>
<g filter="url(#fE2L_1_0)"><ellipse cx="667.0" cy="691.0" rx="3.0" ry="1.6" fill="#a01818" opacity="0.70"/><ellipse cx="742.0" cy="665.5" rx="1.6" ry="1.6" fill="#e0a020" opacity="0.80"/></g>
<filter id="fE2L_0_9" filterUnits="userSpaceOnUse" x="516.8" y="573.2" width="509.2" height="156.1"><feGaussianBlur stdDeviation="0.9"/></filter>
<g filter="url(#fE2L_0_9)"><ellipse cx="538.2" cy="629.0" rx="2.0" ry="2.0" fill="#e01c1c" opacity="0.53"/><ellipse cx="632.5" cy="629.0" rx="2.0" ry="2.0" fill="#e01c1c" opacity="0.40"/><ellipse cx="613.1" cy="609.7" rx="1.5" ry="1.5" fill="#e01c1c" opacity="0.35"/><ellipse cx="550.3" cy="656.8" rx="1.3" ry="1.3" fill="#e01c1c" opacity="0.26"/><ellipse cx="560.0" cy="683.9" rx="3.0" ry="1.6" fill="#e01c1c" opacity="0.35"/><ellipse cx="592.2" cy="676.2" rx="2.6" ry="1.6" fill="#e01c1c" opacity="0.35"/><ellipse cx="605.1" cy="679.9" rx="1.6" ry="1.6" fill="#e01c1c" opacity="0.40"/><ellipse cx="626.0" cy="683.9" rx="3.0" ry="2.0" fill="#e01c1c" opacity="0.44"/><ellipse cx="616.8" cy="683.9" rx="1.5" ry="1.5" fill="#e01c1c" opacity="0.35"/><ellipse cx="573.7" cy="679.9" rx="1.2" ry="1.2" fill="#e01c1c" opacity="0.26"/><ellipse cx="695.3" cy="687.8" rx="1.0" ry="1.0" fill="#e01c1c" opacity="0.35"/><ellipse cx="710.6" cy="683.1" rx="1.5" ry="1.5" fill="#e01c1c" opacity="0.40"/><ellipse cx="718.6" cy="682.6" rx="1.5" ry="3.0" fill="#e01c1c" opacity="0.40"/><ellipse cx="708.0" cy="676.5" rx="1.2" ry="1.2" fill="#e01c1c" opacity="0.26"/><ellipse cx="726.4" cy="672.2" rx="1.2" ry="1.2" fill="#e01c1c" opacity="0.26"/><ellipse cx="593.0" cy="660.5" rx="1.0" ry="1.0" fill="#e01c1c" opacity="0.22"/><ellipse cx="569.8" cy="672.5" rx="1.0" ry="1.0" fill="#e01c1c" opacity="0.22"/><ellipse cx="840.2" cy="676.4" rx="2.5" ry="2.5" fill="#e01c1c" opacity="0.79"/><ellipse cx="844.0" cy="679.5" rx="1.6" ry="1.6" fill="#e01c1c" opacity="0.62"/><ellipse cx="847.6" cy="682.3" rx="1.6" ry="1.6" fill="#e01c1c" opacity="0.53"/><ellipse cx="820.8" cy="680.1" rx="1.5" ry="1.5" fill="#e01c1c" opacity="0.53"/><ellipse cx="877.1" cy="686.0" rx="6.0" ry="2.6" fill="#e01c1c" opacity="0.79" transform="rotate(20 877.1 686.0)"/><ellipse cx="891.0" cy="686.9" rx="2.5" ry="4.0" fill="#e01c1c" opacity="0.70"/><ellipse cx="898.3" cy="683.2" rx="3.0" ry="3.0" fill="#e01c1c" opacity="0.84"/><ellipse cx="905.7" cy="687.8" rx="2.0" ry="2.0" fill="#e01c1c" opacity="0.62"/><ellipse cx="911.3" cy="680.1" rx="2.0" ry="2.0" fill="#e01c1c" opacity="0.62"/><ellipse cx="891.0" cy="695.6" rx="1.5" ry="1.5" fill="#e01c1c" opacity="0.44"/><ellipse cx="898.9" cy="699.8" rx="1.5" ry="1.5" fill="#e01c1c" opacity="0.53"/><ellipse cx="867.9" cy="680.1" rx="2.0" ry="2.0" fill="#e01c1c" opacity="0.62"/><ellipse cx="864.0" cy="699.5" rx="1.0" ry="1.0" fill="#e01c1c" opacity="0.26"/><ellipse cx="780.5" cy="668.5" rx="1.6" ry="1.6" fill="#e01c1c" opacity="0.44"/><ellipse cx="974.0" cy="685.0" rx="4.0" ry="4.0" fill="#f42418" opacity="0.88"/><ellipse cx="962.0" cy="682.3" rx="3.0" ry="3.0" fill="#f42418" opacity="0.88"/><ellipse cx="981.4" cy="662.9" rx="3.0" ry="3.0" fill="#f42418" opacity="0.88"/><ellipse cx="989.3" cy="661.6" rx="1.5" ry="3.0" fill="#f42418" opacity="0.62"/><ellipse cx="990.6" cy="675.8" rx="3.0" ry="2.0" fill="#f42418" opacity="0.70"/><ellipse cx="941.7" cy="675.8" rx="1.5" ry="1.5" fill="#f42418" opacity="0.53"/><ellipse cx="941.7" cy="684.1" rx="2.0" ry="2.0" fill="#f42418" opacity="0.62"/><ellipse cx="984.0" cy="680.0" rx="3.0" ry="3.0" fill="#f42418" opacity="0.88"/><ellipse cx="1001.0" cy="665.0" rx="1.0" ry="1.0" fill="#f42418" opacity="0.35"/></g>
<path d="M668.7 693.4 L672.6 701.8 L668.7 699.3 L664.8 701.8Z" fill="#fff"/>
<path d="M759.1 684.8 L763.0 693.2 L759.1 690.7 L755.2 693.2Z" fill="#fff"/>
<path d="M798.3 696.9 L802.2 705.3 L798.3 702.8 L794.4 705.3Z" fill="#fff"/>
<text x="540.6" y="615.8" font-family="'Liberation Sans',sans-serif" font-size="23.5" fill="#fff" textLength="65.0" lengthAdjust="spacingAndGlyphs">11 sec</text>
</g>
<clipPath id="cpE2R"><rect x="1008" y="593.2" width="469.0" height="116.1"/></clipPath>
<rect x="1008" y="593.2" width="469.0" height="116.1" fill="#040605"/>
<g clip-path="url(#cpE2R)">
<filter id="fE2R_3" filterUnits="userSpaceOnUse" x="988" y="573.2" width="509.0" height="156.1"><feGaussianBlur stdDeviation="3"/></filter>
<g filter="url(#fE2R_3)"><ellipse cx="1182.2" cy="682.6" rx="8.0" ry="5.0" fill="#0c3216" opacity="0.80"/><ellipse cx="1193.0" cy="676.0" rx="5.0" ry="3.0" fill="#0c3216" opacity="0.70"/><ellipse cx="1231.0" cy="657.8" rx="8.0" ry="6.5" fill="#12582a" opacity="0.95"/><ellipse cx="1301.0" cy="676.7" rx="9.0" ry="5.0" fill="#125020" opacity="0.95"/><ellipse cx="1365.6" cy="681.4" rx="8.0" ry="5.0" fill="#125020" opacity="0.95"/><ellipse cx="1440.0" cy="672.0" rx="18.0" ry="11.0" fill="#12582a" opacity="0.90"/></g>
<filter id="fE2R_2_2" filterUnits="userSpaceOnUse" x="988" y="573.2" width="509.0" height="156.1"><feGaussianBlur stdDeviation="2.2"/></filter>
<g filter="url(#fE2R_2_2)"><ellipse cx="1236.8" cy="636.4" rx="6.5" ry="7.5" fill="#0f5a20" opacity="0.95"/><ellipse cx="1219.5" cy="670.5" rx="17.0" ry="8.5" fill="#ff7818"/></g>
<filter id="fE2R_2_0" filterUnits="userSpaceOnUse" x="988" y="573.2" width="509.0" height="156.1"><feGaussianBlur stdDeviation="2.0"/></filter>
<g filter="url(#fE2R_2_0)"><ellipse cx="1217.5" cy="672.5" rx="24.0" ry="12.0" fill="#fb3a14"/><ellipse cx="1221.7" cy="669.0" rx="11.0" ry="6.0" fill="#ffc81c"/><ellipse cx="1451.4" cy="679.5" rx="9.0" ry="8.0" fill="#159a38"/><ellipse cx="1439.4" cy="676.7" rx="10.0" ry="7.6" fill="#ff7a18"/><ellipse cx="1441.0" cy="675.5" rx="5.5" ry="4.5" fill="#ffb01c"/></g>
<filter id="fE2R_1_7" filterUnits="userSpaceOnUse" x="988" y="573.2" width="509.0" height="156.1"><feGaussianBlur stdDeviation="1.7"/></filter>
<g filter="url(#fE2R_1_7)"><ellipse cx="1426.5" cy="678.6" rx="10.0" ry="5.6" fill="#f82a16"/></g>
<filter id="fE2R_1_6" filterUnits="userSpaceOnUse" x="988" y="573.2" width="509.0" height="156.1"><feGaussianBlur stdDeviation="1.6"/></filter>
<g filter="url(#fE2R_1_6)"><ellipse cx="1237.2" cy="635.5" rx="4.6" ry="5.2" fill="#17a03a" transform="rotate(20 1237.2 635.5)"/></g>
<filter id="fE2R_1_4" filterUnits="userSpaceOnUse" x="988" y="573.2" width="509.0" height="156.1"><feGaussianBlur stdDeviation="1.4"/></filter>
<g filter="url(#fE2R_1_4)"><ellipse cx="1203.1" cy="685.0" rx="6.0" ry="3.6" fill="#c81c1c" opacity="0.80"/><ellipse cx="1196.0" cy="676.0" rx="4.0" ry="3.0" fill="#f42418"/><ellipse cx="1243.4" cy="678.4" rx="6.0" ry="4.0" fill="#f42418"/><ellipse cx="1262.2" cy="680.4" rx="5.0" ry="3.4" fill="#ee2020"/><ellipse cx="1277.9" cy="678.2" rx="5.0" ry="3.4" fill="#cc1c1c" opacity="0.85"/></g>
<filter id="fE2R_1_3" filterUnits="userSpaceOnUse" x="988" y="573.2" width="509.0" height="156.1"><feGaussianBlur stdDeviation="1.3"/></filter>
<g filter="url(#fE2R_1_3)"><ellipse cx="1212.0" cy="686.0" rx="3.0" ry="3.0" fill="#d82020" opacity="0.80"/><ellipse cx="1251.1" cy="678.2" rx="3.0" ry="5.0" fill="#f42418"/></g>
<filter id="fE2R_1_2" filterUnits="userSpaceOnUse" x="988" y="573.2" width="509.0" height="156.1"><feGaussianBlur stdDeviation="1.2"/></filter>
<g filter="url(#fE2R_1_2)"><ellipse cx="1360.4" cy="687.8" rx="4.5" ry="2.8" fill="#f82424"/></g>
<filter id="fE2R_1_1" filterUnits="userSpaceOnUse" x="988" y="573.2" width="509.0" height="156.1"><feGaussianBlur stdDeviation="1.1"/></filter>
<g filter="url(#fE2R_1_1)"><ellipse cx="1233.4" cy="642.2" rx="2.8" ry="1.8" fill="#d89020" opacity="0.90" transform="rotate(-25 1233.4 642.2)"/><ellipse cx="1288.1" cy="675.3" rx="4.0" ry="2.0" fill="#c81c1c" opacity="0.80" transform="rotate(-25 1288.1 675.3)"/><ellipse cx="1294.5" cy="672.1" rx="2.5" ry="2.5" fill="#d81c1c" opacity="0.85"/></g>
<filter id="fE2R_1_0" filterUnits="userSpaceOnUse" x="988" y="573.2" width="509.0" height="156.1"><feGaussianBlur stdDeviation="1.0"/></filter>
<g filter="url(#fE2R_1_0)"><ellipse cx="1459.3" cy="680.8" rx="1.5" ry="3.0" fill="#e03018" opacity="0.90"/></g>
<filter id="fE2R_0_9" filterUnits="userSpaceOnUse" x="988" y="573.2" width="509.0" height="156.1"><feGaussianBlur stdDeviation="0.9"/></filter>
<g filter="url(#fE2R_0_9)"><ellipse cx="1032.1" cy="679.9" rx="2.5" ry="2.5" fill="#e01c1c" opacity="0.62"/><ellipse cx="1035.6" cy="664.1" rx="1.5" ry="1.5" fill="#e01c1c" opacity="0.26"/><ellipse cx="1102.5" cy="680.5" rx="2.5" ry="2.5" fill="#e01c1c" opacity="0.40"/><ellipse cx="1114.5" cy="675.7" rx="2.0" ry="2.0" fill="#e01c1c" opacity="0.35"/><ellipse cx="1157.2" cy="676.2" rx="2.0" ry="2.0" fill="#e01c1c" opacity="0.40"/><ellipse cx="1051.7" cy="699.9" rx="2.0" ry="2.0" fill="#e01c1c" opacity="0.35"/><ellipse cx="1133.9" cy="687.8" rx="1.0" ry="1.0" fill="#e01c1c" opacity="0.26"/><ellipse cx="1086.8" cy="706.8" rx="1.5" ry="1.5" fill="#e01c1c" opacity="0.26"/><ellipse cx="1078.8" cy="597.2" rx="1.0" ry="1.0" fill="#e01c1c" opacity="0.22"/><ellipse cx="1126.0" cy="683.5" rx="1.0" ry="1.0" fill="#e01c1c" opacity="0.22"/><ellipse cx="1254.8" cy="669.0" rx="1.4" ry="1.4" fill="#e01c1c" opacity="0.35"/><ellipse cx="1342.5" cy="678.6" rx="2.5" ry="4.0" fill="#e01c1c" opacity="0.48" transform="rotate(-20 1342.5 678.6)"/><ellipse cx="1348.0" cy="686.0" rx="3.0" ry="4.0" fill="#e01c1c" opacity="0.48" transform="rotate(-20 1348.0 686.0)"/><ellipse cx="1361.0" cy="696.1" rx="1.5" ry="1.5" fill="#e01c1c" opacity="0.53"/><ellipse cx="1376.6" cy="660.5" rx="2.0" ry="2.0" fill="#e01c1c" opacity="0.44"/><ellipse cx="1371.0" cy="682.3" rx="1.5" ry="1.5" fill="#e01c1c" opacity="0.35"/><ellipse cx="1404.0" cy="684.1" rx="2.0" ry="2.0" fill="#e01c1c" opacity="0.44"/><ellipse cx="1411.7" cy="686.9" rx="2.0" ry="3.0" fill="#e01c1c" opacity="0.62" transform="rotate(-30 1411.7 686.9)"/><ellipse cx="1415.4" cy="691.1" rx="2.0" ry="2.0" fill="#e01c1c" opacity="0.62"/><ellipse cx="1392.8" cy="660.5" rx="1.0" ry="1.0" fill="#e01c1c" opacity="0.22"/><ellipse cx="1454.3" cy="664.0" rx="1.0" ry="1.0" fill="#e01c1c" opacity="0.26"/></g>
<path d="M1275.1 642.0 H1256.5" stroke="#fff" stroke-width="2.1" fill="none"/><path d="M1253.0 642.0 L1259.8 639.1 L1258.0 642.0 L1259.8 644.9Z" fill="#fff"/>
<path d="M1218.3 688.4 L1222.2 696.8 L1218.3 694.3 L1214.4 696.8Z" fill="#fff"/>
<text x="1009.2" y="615.8" font-family="'Liberation Sans',sans-serif" font-size="23.5" fill="#fff" textLength="66.5" lengthAdjust="spacingAndGlyphs">88 sec</text>
</g>
<clipPath id="cpE3L"><rect x="536.8" y="711.3" width="469.2" height="115.4"/></clipPath>
<rect x="536.8" y="711.3" width="469.2" height="115.4" fill="#040605"/>
<g clip-path="url(#cpE3L)">
<filter id="fE3L_3" filterUnits="userSpaceOnUse" x="516.8" y="691.3" width="509.2" height="155.4"><feGaussianBlur stdDeviation="3"/></filter>
<g filter="url(#fE3L_3)"><ellipse cx="756.0" cy="785.0" rx="24.0" ry="12.0" fill="#12582a" opacity="0.90"/><ellipse cx="774.7" cy="754.1" rx="3.0" ry="8.0" fill="#0c3216" opacity="0.80"/><ellipse cx="799.6" cy="798.4" rx="10.0" ry="5.0" fill="#125020" opacity="0.95"/><ellipse cx="907.6" cy="800.3" rx="9.0" ry="6.0" fill="#125020" opacity="0.95"/><ellipse cx="879.0" cy="801.2" rx="8.0" ry="4.0" fill="#0c3216" opacity="0.90"/><ellipse cx="936.2" cy="799.4" rx="6.0" ry="4.0" fill="#0e3c1a" opacity="0.90"/><ellipse cx="968.0" cy="787.0" rx="14.0" ry="9.0" fill="#12582a" opacity="0.90"/></g>
<filter id="fE3L_2_2" filterUnits="userSpaceOnUse" x="516.8" y="691.3" width="509.2" height="155.4"><feGaussianBlur stdDeviation="2.2"/></filter>
<g filter="url(#fE3L_2_2)"><ellipse cx="757.0" cy="786.0" rx="15.0" ry="8.0" fill="#ff8a18"/><ellipse cx="992.5" cy="798.4" rx="10.0" ry="8.0" fill="#128a30"/></g>
<filter id="fE3L_2_0" filterUnits="userSpaceOnUse" x="516.8" y="691.3" width="509.2" height="155.4"><feGaussianBlur stdDeviation="2.0"/></filter>
<g filter="url(#fE3L_2_0)"><ellipse cx="757.0" cy="788.0" rx="24.0" ry="10.5" fill="#fb3c14"/><ellipse cx="754.8" cy="785.0" rx="10.5" ry="6.2" fill="#ffe61c"/><ellipse cx="765.0" cy="776.0" rx="6.0" ry="3.0" fill="#128a30" opacity="0.70"/><ellipse cx="974.9" cy="792.9" rx="13.0" ry="10.6" fill="#ff5216"/><ellipse cx="970.0" cy="796.0" rx="6.0" ry="5.0" fill="#ff7018"/></g>
<filter id="fE3L_1_8" filterUnits="userSpaceOnUse" x="516.8" y="691.3" width="509.2" height="155.4"><feGaussianBlur stdDeviation="1.8"/></filter>
<g filter="url(#fE3L_1_8)"><ellipse cx="782.1" cy="792.5" rx="14.0" ry="6.6" fill="#f82a18"/></g>
<filter id="fE3L_1_5" filterUnits="userSpaceOnUse" x="516.8" y="691.3" width="509.2" height="155.4"><feGaussianBlur stdDeviation="1.5"/></filter>
<g filter="url(#fE3L_1_5)"><ellipse cx="708.2" cy="799.0" rx="14.0" ry="8.6" fill="#f82020"/><ellipse cx="747.6" cy="794.0" rx="5.0" ry="2.4" fill="#0f5a20" opacity="0.90"/><ellipse cx="981.0" cy="785.0" rx="4.0" ry="4.0" fill="#f8441a"/></g>
<filter id="fE3L_1_3" filterUnits="userSpaceOnUse" x="516.8" y="691.3" width="509.2" height="155.4"><feGaussianBlur stdDeviation="1.3"/></filter>
<g filter="url(#fE3L_1_3)"><ellipse cx="703.3" cy="791.0" rx="4.0" ry="4.0" fill="#f82020"/><ellipse cx="720.2" cy="804.6" rx="3.0" ry="5.0" fill="#c81c1c" opacity="0.85"/><ellipse cx="724.0" cy="795.0" rx="3.0" ry="3.0" fill="#d81c1c" opacity="0.80"/><ellipse cx="730.7" cy="795.0" rx="2.8" ry="7.5" fill="#f42418"/></g>
<filter id="fE3L_1_2" filterUnits="userSpaceOnUse" x="516.8" y="691.3" width="509.2" height="155.4"><feGaussianBlur stdDeviation="1.2"/></filter>
<g filter="url(#fE3L_1_2)"><ellipse cx="691.2" cy="797.7" rx="3.0" ry="3.0" fill="#f82020"/></g>
<filter id="fE3L_0_9" filterUnits="userSpaceOnUse" x="516.8" y="691.3" width="509.2" height="155.4"><feGaussianBlur stdDeviation="0.9"/></filter>
<g filter="url(#fE3L_0_9)"><ellipse cx="538.2" cy="734.6" rx="3.0" ry="2.0" fill="#e01c1c" opacity="0.62"/><ellipse cx="569.6" cy="738.6" rx="2.5" ry="2.5" fill="#e01c1c" opacity="0.62"/><ellipse cx="640.2" cy="758.7" rx="1.5" ry="1.5" fill="#e01c1c" opacity="0.31"/><ellipse cx="640.2" cy="773.7" rx="2.5" ry="2.5" fill="#e01c1c" opacity="0.62"/><ellipse cx="715.1" cy="770.0" rx="2.5" ry="2.5" fill="#e01c1c" opacity="0.40"/><ellipse cx="542.2" cy="782.1" rx="2.0" ry="2.0" fill="#e01c1c" opacity="0.35"/><ellipse cx="558.0" cy="782.4" rx="2.5" ry="2.5" fill="#e01c1c" opacity="0.35"/><ellipse cx="624.4" cy="778.0" rx="1.2" ry="1.2" fill="#e01c1c" opacity="0.26"/><ellipse cx="659.8" cy="785.3" rx="3.0" ry="3.0" fill="#e01c1c" opacity="0.44"/><ellipse cx="671.9" cy="782.1" rx="2.0" ry="2.0" fill="#e01c1c" opacity="0.40"/><ellipse cx="667.1" cy="789.8" rx="3.0" ry="3.0" fill="#e01c1c" opacity="0.44"/><ellipse cx="659.8" cy="794.2" rx="4.0" ry="3.0" fill="#e01c1c" opacity="0.66"/><ellipse cx="667.4" cy="797.9" rx="4.5" ry="3.0" fill="#e01c1c" opacity="0.88"/><ellipse cx="644.5" cy="799.0" rx="2.0" ry="4.0" fill="#e01c1c" opacity="0.40"/><ellipse cx="651.8" cy="801.8" rx="1.3" ry="1.3" fill="#e01c1c" opacity="0.31"/><ellipse cx="681.0" cy="796.5" rx="3.0" ry="1.5" fill="#e01c1c" opacity="0.35"/><ellipse cx="690.0" cy="796.0" rx="1.6" ry="1.6" fill="#e01c1c" opacity="0.44"/><ellipse cx="785.2" cy="715.4" rx="2.5" ry="2.5" fill="#e01c1c" opacity="0.79"/><ellipse cx="781.1" cy="762.6" rx="2.5" ry="2.5" fill="#e01c1c" opacity="0.79"/><ellipse cx="809.2" cy="793.8" rx="3.0" ry="3.0" fill="#e01c1c" opacity="0.79"/><ellipse cx="852.2" cy="798.4" rx="4.0" ry="3.0" fill="#e01c1c" opacity="0.79"/><ellipse cx="860.1" cy="793.3" rx="3.0" ry="3.0" fill="#e01c1c" opacity="0.79"/><ellipse cx="867.9" cy="797.9" rx="5.0" ry="3.0" fill="#e01c1c" opacity="0.84"/><ellipse cx="874.9" cy="805.5" rx="2.0" ry="2.0" fill="#e01c1c" opacity="0.70"/><ellipse cx="891.0" cy="797.9" rx="2.0" ry="2.0" fill="#e01c1c" opacity="0.53"/><ellipse cx="840.2" cy="817.3" rx="2.5" ry="2.5" fill="#e01c1c" opacity="0.62"/><ellipse cx="867.5" cy="824.6" rx="2.0" ry="2.0" fill="#e01c1c" opacity="0.62"/><ellipse cx="847.6" cy="789.6" rx="1.3" ry="1.3" fill="#e01c1c" opacity="0.35"/><ellipse cx="828.2" cy="797.9" rx="1.3" ry="1.3" fill="#e01c1c" opacity="0.35"/><ellipse cx="938.0" cy="802.7" rx="3.0" ry="3.0" fill="#e01c1c" opacity="0.79"/><ellipse cx="930.1" cy="809.1" rx="2.5" ry="2.5" fill="#e01c1c" opacity="0.70"/><ellipse cx="950.0" cy="797.5" rx="2.0" ry="2.0" fill="#e01c1c" opacity="0.62"/><ellipse cx="809.0" cy="778.3" rx="1.0" ry="1.0" fill="#e01c1c" opacity="0.26"/><ellipse cx="739.0" cy="801.0" rx="1.5" ry="1.5" fill="#e01c1c" opacity="0.44"/><ellipse cx="957.4" cy="784.0" rx="2.0" ry="4.0" fill="#f42418" opacity="0.75"/><ellipse cx="954.6" cy="808.6" rx="3.0" ry="3.0" fill="#f42418" opacity="0.79"/><ellipse cx="964.8" cy="809.5" rx="2.5" ry="2.5" fill="#f42418" opacity="0.79"/><ellipse cx="989.3" cy="767.1" rx="3.0" ry="3.0" fill="#f42418" opacity="0.75"/><ellipse cx="1000.8" cy="770.4" rx="2.5" ry="2.5" fill="#f42418" opacity="0.70"/><ellipse cx="969.4" cy="723.1" rx="2.5" ry="2.5" fill="#f42418" opacity="0.70"/><ellipse cx="1000.8" cy="804.0" rx="2.0" ry="4.0" fill="#f42418" opacity="0.70"/><ellipse cx="993.0" cy="816.9" rx="2.0" ry="2.0" fill="#f42418" opacity="0.40"/><ellipse cx="988.0" cy="786.5" rx="2.5" ry="2.5" fill="#f42418" opacity="0.70"/><ellipse cx="972.0" cy="778.5" rx="2.0" ry="2.0" fill="#f42418" opacity="0.70"/></g>
<path d="M703.8 812.0 L707.7 820.4 L703.8 817.9 L699.9 820.4Z" fill="#fff"/>
<path d="M752.8 805.3 L756.7 813.7 L752.8 811.2 L748.9 813.7Z" fill="#fff"/>
<path d="M778.6 805.3 L782.5 813.7 L778.6 811.2 L774.7 813.7Z" fill="#fff"/>
<text x="539.0" y="733.5" font-family="'Liberation Sans',sans-serif" font-size="23.5" fill="#fff" textLength="66.5" lengthAdjust="spacingAndGlyphs">34 sec</text>
<text x="539.0" y="799.0" font-family="'Liberation Sans',sans-serif" font-size="17.6" fill="#58c044" textLength="80.2" lengthAdjust="spacingAndGlyphs">ZBP1-GFP</text>
<text x="539.0" y="822.7" font-family="'Liberation Sans',sans-serif" font-size="17.6" fill="#f02424" textLength="154.5" lengthAdjust="spacingAndGlyphs">ms2-β-actin 3′-UTR</text>
</g>
<clipPath id="cpE3R"><rect x="1008" y="711.3" width="469.0" height="115.4"/></clipPath>
<rect x="1008" y="711.3" width="469.0" height="115.4" fill="#040605"/>
<g clip-path="url(#cpE3R)">
<filter id="fE3R_3" filterUnits="userSpaceOnUse" x="988" y="691.3" width="509.0" height="155.4"><feGaussianBlur stdDeviation="3"/></filter>
<g filter="url(#fE3R_3)"><ellipse cx="1104.0" cy="808.0" rx="6.0" ry="4.0" fill="#0c3216" opacity="0.80"/><ellipse cx="1169.0" cy="802.0" rx="5.0" ry="3.0" fill="#0c3216" opacity="0.70"/><ellipse cx="1234.5" cy="749.0" rx="4.0" ry="12.0" fill="#0c3216" opacity="0.90"/><ellipse cx="1232.0" cy="767.0" rx="3.5" ry="8.0" fill="#0c3216" opacity="0.80"/><ellipse cx="1231.0" cy="789.5" rx="18.0" ry="13.0" fill="#12582a" opacity="0.90"/><ellipse cx="1308.0" cy="800.0" rx="10.0" ry="5.0" fill="#114a20" opacity="0.90"/><ellipse cx="1334.0" cy="803.0" rx="8.0" ry="4.5" fill="#114a20" opacity="0.90"/><ellipse cx="1369.3" cy="810.4" rx="10.0" ry="7.0" fill="#125020" opacity="0.95"/><ellipse cx="1440.3" cy="797.0" rx="22.0" ry="12.0" fill="#12582a" opacity="0.95"/></g>
<filter id="fE3R_2_2" filterUnits="userSpaceOnUse" x="988" y="691.3" width="509.0" height="155.4"><feGaussianBlur stdDeviation="2.2"/></filter>
<g filter="url(#fE3R_2_2)"><ellipse cx="1231.0" cy="790.0" rx="13.0" ry="10.5" fill="#ff8a18"/></g>
<filter id="fE3R_2_0" filterUnits="userSpaceOnUse" x="988" y="691.3" width="509.0" height="155.4"><feGaussianBlur stdDeviation="2.0"/></filter>
<g filter="url(#fE3R_2_0)"><path d="M1232.2 774.0 L1243.5 783.5 L1247.0 793.0 L1242.5 800.5 L1230.0 803.5 L1218.5 799.0 L1215.0 790.0 L1221.5 782.5Z" fill="#fb5014"/><ellipse cx="1230.3" cy="789.5" rx="11.0" ry="8.6" fill="#ffe61c"/></g>
<filter id="fE3R_1_8" filterUnits="userSpaceOnUse" x="988" y="691.3" width="509.0" height="155.4"><feGaussianBlur stdDeviation="1.8"/></filter>
<g filter="url(#fE3R_1_8)"><ellipse cx="1440.0" cy="798.4" rx="18.5" ry="7.6" fill="#ff6a16"/><ellipse cx="1439.0" cy="797.8" rx="12.0" ry="4.6" fill="#ffb01c"/></g>
<filter id="fE3R_1_2" filterUnits="userSpaceOnUse" x="988" y="691.3" width="509.0" height="155.4"><feGaussianBlur stdDeviation="1.2"/></filter>
<g filter="url(#fE3R_1_2)"><ellipse cx="1102.9" cy="809.5" rx="2.6" ry="5.6" fill="#d82020" opacity="0.85" transform="rotate(35 1102.9 809.5)"/><ellipse cx="1369.3" cy="810.4" rx="3.5" ry="3.0" fill="#f8541a"/></g>
<filter id="fE3R_1_0" filterUnits="userSpaceOnUse" x="988" y="691.3" width="509.0" height="155.4"><feGaussianBlur stdDeviation="1.0"/></filter>
<g filter="url(#fE3R_1_0)"><path d="M1299.5 803.0 L1300.5 798.5 L1305.5 796.5 L1310.5 798.5 L1311.0 803.5" fill="none" stroke="#e42020" stroke-width="2.4" stroke-linecap="round" stroke-linejoin="round" opacity="0.90"/></g>
<filter id="fE3R_0_9" filterUnits="userSpaceOnUse" x="988" y="691.3" width="509.0" height="155.4"><feGaussianBlur stdDeviation="0.9"/></filter>
<g filter="url(#fE3R_0_9)"><ellipse cx="1011.1" cy="801.4" rx="3.0" ry="4.0" fill="#e01c1c" opacity="0.62"/><ellipse cx="1059.8" cy="801.4" rx="2.5" ry="2.5" fill="#e01c1c" opacity="0.70"/><ellipse cx="1095.2" cy="809.5" rx="2.0" ry="2.0" fill="#e01c1c" opacity="0.62"/><ellipse cx="1086.8" cy="809.5" rx="2.0" ry="2.0" fill="#e01c1c" opacity="0.40"/><ellipse cx="1066.5" cy="805.5" rx="1.5" ry="1.5" fill="#e01c1c" opacity="0.26"/><ellipse cx="1039.6" cy="821.2" rx="2.5" ry="2.5" fill="#e01c1c" opacity="0.62"/><ellipse cx="1028.0" cy="809.5" rx="1.4" ry="1.4" fill="#e01c1c" opacity="0.31"/><ellipse cx="1051.7" cy="742.6" rx="2.0" ry="2.0" fill="#e01c1c" opacity="0.35"/><ellipse cx="1020.3" cy="750.7" rx="1.4" ry="1.4" fill="#e01c1c" opacity="0.26"/><ellipse cx="1020.3" cy="735.0" rx="1.4" ry="1.4" fill="#e01c1c" opacity="0.26"/><ellipse cx="1063.5" cy="746.7" rx="1.0" ry="1.0" fill="#e01c1c" opacity="0.22"/><ellipse cx="1118.6" cy="801.4" rx="2.0" ry="2.0" fill="#e01c1c" opacity="0.35"/><ellipse cx="1153.5" cy="801.4" rx="2.0" ry="2.0" fill="#e01c1c" opacity="0.40"/><ellipse cx="1165.3" cy="809.2" rx="1.3" ry="1.3" fill="#e01c1c" opacity="0.26"/><ellipse cx="1220.0" cy="723.3" rx="2.0" ry="2.0" fill="#e01c1c" opacity="0.35"/><ellipse cx="1177.0" cy="742.6" rx="1.0" ry="1.0" fill="#e01c1c" opacity="0.22"/><ellipse cx="1043.7" cy="805.5" rx="1.0" ry="1.0" fill="#e01c1c" opacity="0.26"/><ellipse cx="1232.0" cy="805.0" rx="2.5" ry="2.5" fill="#e01c1c" opacity="0.79"/><ellipse cx="1212.0" cy="793.4" rx="2.4" ry="2.4" fill="#e01c1c" opacity="0.79"/><ellipse cx="1196.7" cy="790.2" rx="2.5" ry="2.5" fill="#e01c1c" opacity="0.44"/><ellipse cx="1193.1" cy="805.5" rx="2.0" ry="2.0" fill="#e01c1c" opacity="0.40"/><ellipse cx="1200.0" cy="800.0" rx="1.0" ry="1.0" fill="#e01c1c" opacity="0.35"/><ellipse cx="1251.1" cy="770.2" rx="2.5" ry="2.5" fill="#e01c1c" opacity="0.75"/><ellipse cx="1255.2" cy="746.8" rx="2.5" ry="2.5" fill="#e01c1c" opacity="0.48"/><ellipse cx="1219.8" cy="723.1" rx="2.0" ry="2.0" fill="#e01c1c" opacity="0.35"/><ellipse cx="1318.0" cy="723.1" rx="2.0" ry="2.0" fill="#e01c1c" opacity="0.35"/><ellipse cx="1302.5" cy="735.0" rx="1.0" ry="1.0" fill="#e01c1c" opacity="0.22"/><ellipse cx="1258.5" cy="805.5" rx="2.5" ry="2.5" fill="#e01c1c" opacity="0.66"/><ellipse cx="1278.8" cy="802.1" rx="2.0" ry="2.0" fill="#e01c1c" opacity="0.44"/><ellipse cx="1290.8" cy="802.1" rx="3.0" ry="2.5" fill="#e01c1c" opacity="0.62"/><ellipse cx="1282.5" cy="809.2" rx="1.5" ry="1.5" fill="#e01c1c" opacity="0.35"/><ellipse cx="1329.6" cy="803.1" rx="2.0" ry="2.0" fill="#e01c1c" opacity="0.44"/><ellipse cx="1337.9" cy="804.0" rx="2.0" ry="2.0" fill="#e01c1c" opacity="0.40"/><ellipse cx="1385.0" cy="809.5" rx="1.5" ry="1.5" fill="#e01c1c" opacity="0.40"/><ellipse cx="1389.0" cy="813.0" rx="1.2" ry="1.2" fill="#e01c1c" opacity="0.35"/><ellipse cx="1404.0" cy="804.0" rx="1.5" ry="4.0" fill="#e01c1c" opacity="0.44"/><ellipse cx="1412.6" cy="805.8" rx="3.0" ry="2.5" fill="#e01c1c" opacity="0.62"/><ellipse cx="1243.6" cy="825.0" rx="1.2" ry="1.2" fill="#e01c1c" opacity="0.31"/><ellipse cx="1259.0" cy="825.0" rx="1.2" ry="1.2" fill="#e01c1c" opacity="0.31"/><ellipse cx="1423.8" cy="750.8" rx="0.9" ry="0.9" fill="#e01c1c" opacity="0.26"/><path d="M1341.0 812.5 L1346.0 813.0 L1350.0 809.5" fill="none" stroke="#b01c1c" stroke-width="1.8" stroke-linecap="round" stroke-linejoin="round" opacity="0.70"/></g>
<path d="M1232.0 808.7 L1235.9 817.1 L1232.0 814.6 L1228.1 817.1Z" fill="#fff"/>
<text x="1010.5" y="733.5" font-family="'Liberation Sans',sans-serif" font-size="23.5" fill="#fff" textLength="79.0" lengthAdjust="spacingAndGlyphs">108 sec</text>
<text x="1440.6" y="811.4" font-family="'Liberation Serif',serif" font-size="18.5" fill="#fff" textLength="37.0" lengthAdjust="spacingAndGlyphs">1 µm</text>
<rect x="1451" y="820.6" width="22.5" height="3.6" fill="#fff"/>
</g>
<rect x="1006.15" y="357" width="1.7" height="469.7" fill="#fff"/>
<rect x="536.8" y="473.35" width="940.2" height="1.7" fill="#fff"/>
<rect x="536.8" y="591.35" width="940.2" height="1.7" fill="#fff"/>
<rect x="536.8" y="709.45" width="940.2" height="1.7" fill="#fff"/>
</svg>
</body></html>
